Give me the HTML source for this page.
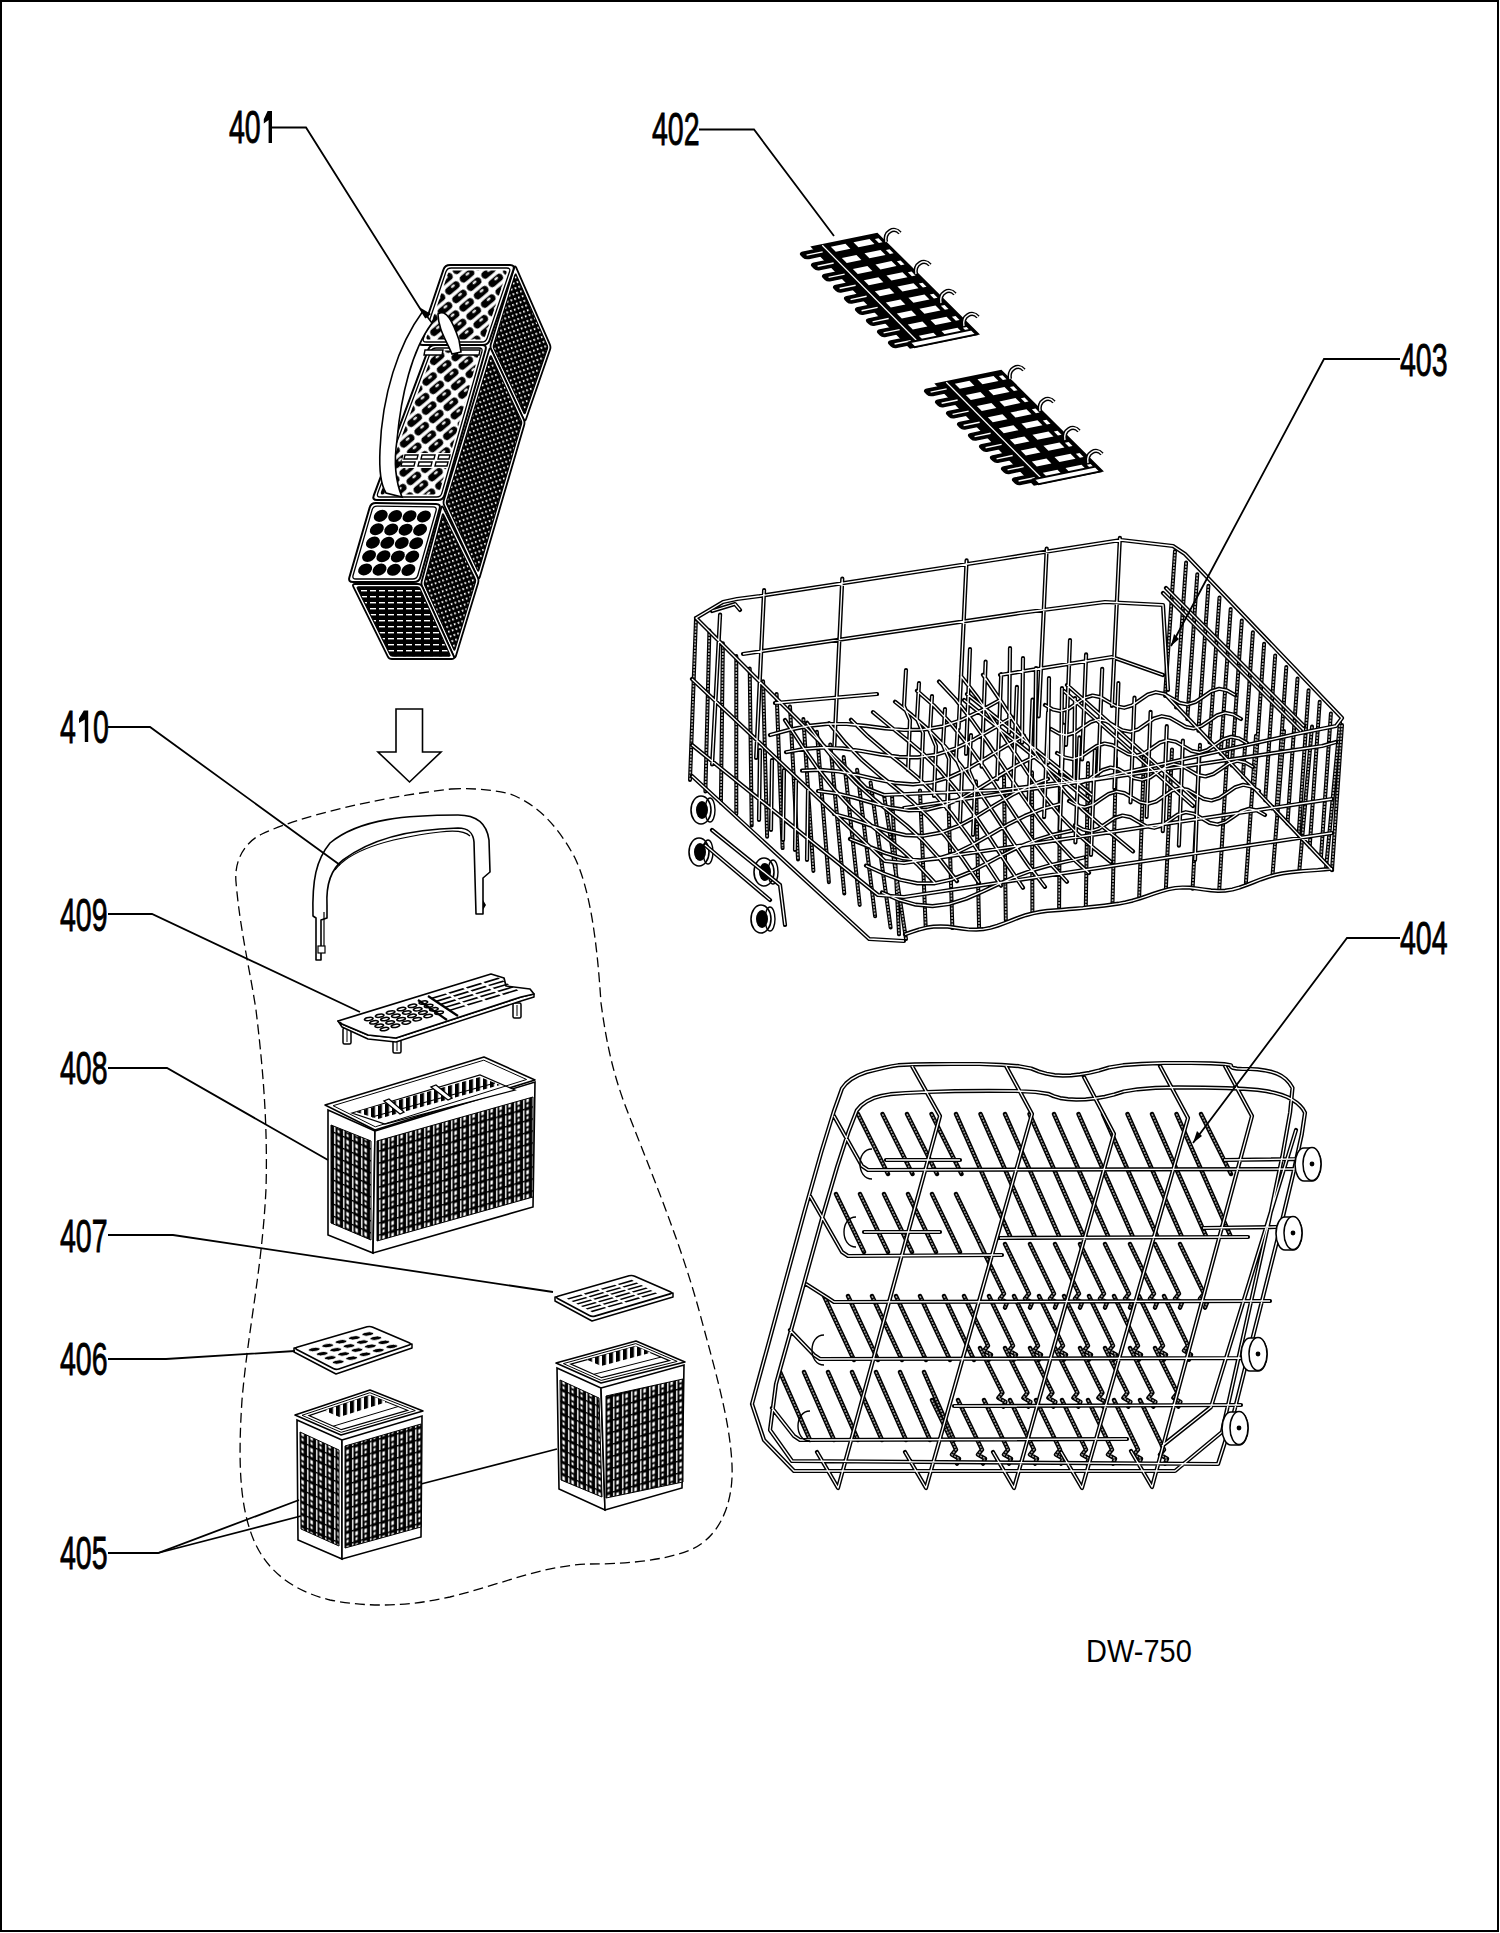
<!DOCTYPE html>
<html><head><meta charset="utf-8"><title>DW-750 racks</title><style>
html,body{margin:0;padding:0;background:#fff;}
body{width:1500px;height:1933px;position:relative;overflow:hidden;}
#frame{position:absolute;left:0;top:0;width:1499px;height:1932px;box-sizing:border-box;border:2px solid #000;}
svg{position:absolute;left:0;top:0;}
.lb{font-family:"Liberation Sans",sans-serif;font-size:46px;fill:#000;stroke:#000;stroke-width:0.9px;}
.ld{fill:none;stroke:#000;stroke-width:1.8;}
.dash{fill:none;stroke:#000;stroke-width:1.3;stroke-dasharray:10 5;}
.model{font-family:"Liberation Sans",sans-serif;font-size:31px;fill:#000;}
</style></head>
<body><div id="frame"></div>
<svg width="1500" height="1933" viewBox="0 0 1500 1933">
<defs>
<pattern id="pMesh" width="4" height="5" patternUnits="userSpaceOnUse" patternTransform="rotate(-20)">
 <rect width="4" height="5" fill="#000"/><rect x="1" y="1" width="1.5" height="2.1" fill="#fff"/>
</pattern>
<pattern id="pGrid" width="9" height="12" patternUnits="userSpaceOnUse" patternTransform="skewY(-16)">
 <rect width="9" height="12" fill="#000"/><rect x="1" y="0.5" width="1.4" height="10.5" fill="#fff"/><rect x="4.3" y="1.5" width="2.6" height="4" fill="#fff"/><rect x="4.6" y="7.5" width="2" height="2.8" fill="#fff"/>
</pattern>
<pattern id="pGridL" width="9" height="12" patternUnits="userSpaceOnUse" patternTransform="skewY(24)">
 <rect width="9" height="12" fill="#000"/><rect x="1" y="0.5" width="1.4" height="10.5" fill="#fff"/><rect x="4.3" y="1.5" width="2.6" height="4" fill="#fff"/><rect x="4.6" y="7.5" width="2" height="2.8" fill="#fff"/>
</pattern>
<pattern id="pSlats" width="7" height="20" patternUnits="userSpaceOnUse" patternTransform="skewY(-16)">
 <rect width="7" height="20" fill="#fff"/><rect x="0" y="0" width="4" height="20" fill="#000"/>
</pattern>
<pattern id="pHoles" width="19" height="11" patternUnits="userSpaceOnUse" patternTransform="rotate(-40)">
 <rect width="19" height="11" fill="#fff"/><rect x="1.2" y="1.8" width="16.6" height="7.4" rx="3.7" fill="#000"/><ellipse cx="11" cy="4.4" rx="2.4" ry="1.1" fill="#fff"/>
</pattern>
<pattern id="pRound" width="11" height="11" patternUnits="userSpaceOnUse" patternTransform="rotate(-30)">
 <rect width="11" height="11" fill="#fff"/><ellipse cx="5.5" cy="5.5" rx="5" ry="4.5" fill="#000"/>
</pattern>
<pattern id="pSlot" width="9" height="6" patternUnits="userSpaceOnUse">
 <rect width="9" height="6" fill="#000"/><rect x="1" y="2" width="6" height="1.4" fill="#fff"/>
</pattern>
<pattern id="pRack" width="6" height="4" patternUnits="userSpaceOnUse" patternTransform="rotate(-38)">
 <rect width="6" height="4" fill="#000"/><rect x="1" y="1" width="3.6" height="1.8" fill="#fff"/>
</pattern>
<pattern id="pTray" width="12" height="9" patternUnits="userSpaceOnUse" patternTransform="rotate(-17)">
 <rect width="12" height="9" fill="#fff"/><ellipse cx="6" cy="4.5" rx="4" ry="2.6" fill="none" stroke="#000" stroke-width="1.2"/>
</pattern>
<pattern id="pTrayS" width="11" height="7" patternUnits="userSpaceOnUse" patternTransform="rotate(-17)">
 <rect width="11" height="7" fill="#fff"/><rect x="0.5" y="2" width="9" height="2.4" fill="#000"/>
</pattern>
</defs>
<path d="M516.2,267.7 L549.8,344.3 Q551,347 550,349.8 L526,419.2 Q525,422 523.7,419.3 L491.3,349.7 Q490,347 490.9,344.1 L514.1,267.9 Q515,265 516.2,267.7Z" fill="#fff" stroke="#000" stroke-width="1.8"/>
<path d="M516.3,274.9 L547.2,345.3 Q548,347.1 547.3,349 L525.3,412.7 Q524.6,414.6 523.8,412.7 L493.8,348.6 Q493,346.8 493.6,344.9 L514.9,275 Q515.5,273 516.3,274.9Z" fill="url(#pMesh)" stroke="#000" stroke-width="1.2"/>
<path d="M491.3,349.7 L523.7,419.3 Q525,422 524.2,424.9 L479.8,577.1 Q479,580 477.7,577.3 L444.3,505.7 Q443,503 443.9,500.1 L489.1,349.9 Q490,347 491.3,349.7Z" fill="#fff" stroke="#000" stroke-width="1.8"/>
<path d="M491.4,356.6 L521.2,420.4 Q522,422.2 521.5,424.1 L478.9,570.2 Q478.4,572.1 477.5,570.3 L446.8,504.6 Q446,502.8 446.6,500.9 L490,356.7 Q490.6,354.8 491.4,356.6Z" fill="url(#pMesh)" stroke="#000" stroke-width="1.2"/>
<path d="M443.3,507.7 L477.7,577.3 Q479,580 478.1,582.9 L455.9,656.1 Q455,659 453.8,656.3 L422.2,586.7 Q421,584 421.8,581.1 L441.2,507.9 Q442,505 443.3,507.7Z" fill="#fff" stroke="#000" stroke-width="1.8"/>
<path d="M443.7,514.7 L475.1,578.5 Q476,580.2 475.4,582.2 L455.1,649.2 Q454.5,651.1 453.7,649.3 L424.8,585.6 Q424,583.8 424.5,581.8 L442.3,514.9 Q442.8,512.9 443.7,514.7Z" fill="url(#pMesh)" stroke="#000" stroke-width="1.2"/>
<path d="M355,584 L418,584 Q421,584 422.2,586.7 L453.8,656.3 Q455,659 452,659 L392,659 Q389,659 387.7,656.3 L353.3,586.7 Q352,584 355,584Z" fill="#fff" stroke="#000" stroke-width="1.8"/>
<path d="M358.5,586.8 L417.2,586.8 Q419.2,586.8 420,588.6 L449.8,654.4 Q450.7,656.2 448.7,656.2 L392.7,656.2 Q390.7,656.2 389.9,654.4 L357.4,588.6 Q356.5,586.8 358.5,586.8Z" fill="url(#pSlot)" stroke="#000" stroke-width="1.2"/>
<path d="M450,265 L510,265 Q515,265 513.4,269.7 L489.6,340.3 Q488,345 483,345 L423,345 Q418,345 419.6,340.3 L443.4,269.7 Q445,265 450,265Z" fill="#fff" stroke="#000" stroke-width="2"/>
<path d="M451.2,268 L506.8,268 Q510.8,268 509.5,271.8 L487.1,338.2 Q485.8,342 481.8,342 L426.2,342 Q422.2,342 423.5,338.2 L445.9,271.8 Q447.2,268 451.2,268Z" fill="none" stroke="#000" stroke-width="1.3"/>
<path d="M451.9,270.5 L504.3,270.5 Q507.3,270.5 506.4,273.3 L485,336.7 Q484.1,339.5 481.1,339.5 L428.7,339.5 Q425.7,339.5 426.6,336.7 L448,273.3 Q448.9,270.5 451.9,270.5Z" fill="url(#pHoles)" stroke="none"/>
<path d="M435,345 L482,345 Q487,345 485.6,349.8 L444.4,495.2 Q443,500 438,500 L377,500 Q372,500 373.8,495.3 L428.2,349.7 Q430,345 435,345Z" fill="#fff" stroke="#000" stroke-width="2"/>
<path d="M436.1,348 L479,348 Q483,348 481.9,351.8 L441.8,493.2 Q440.7,497 436.7,497 L380.3,497 Q376.3,497 377.7,493.3 L430.7,351.7 Q432.1,348 436.1,348Z" fill="none" stroke="#000" stroke-width="1.3"/>
<path d="M436.8,350.5 L476.7,350.5 Q479.7,350.5 478.9,353.4 L439.7,491.6 Q438.8,494.5 435.8,494.5 L382.9,494.5 Q379.9,494.5 381,491.7 L432.8,353.3 Q433.8,350.5 436.8,350.5Z" fill="url(#pHoles)" stroke="none"/>
<path d="M376,503.1 L436,503.9 Q441,504 439.6,508.8 L420.4,577.2 Q419,582 414,582 L353,582 Q348,582 349.4,577.2 L369.6,507.8 Q371,503 376,503.1Z" fill="#fff" stroke="#000" stroke-width="2"/>
<path d="M377.2,506.1 L433.1,506.9 Q437.1,506.9 436,510.8 L417.8,575.2 Q416.7,579 412.7,579 L356,579 Q352,579 353.1,575.2 L372.1,509.9 Q373.2,506 377.2,506.1Z" fill="none" stroke="#000" stroke-width="1.3"/>
<g transform="matrix(57.6218,0.8232,-19.4875,66.9353,375.4835,509.0647)"><ellipse cx="0.125" cy="0.1" rx="0.1175" ry="0.09" fill="#000"/><ellipse cx="0.125" cy="0.3" rx="0.1175" ry="0.09" fill="#000"/><ellipse cx="0.125" cy="0.5" rx="0.1175" ry="0.09" fill="#000"/><ellipse cx="0.125" cy="0.7" rx="0.1175" ry="0.09" fill="#000"/><ellipse cx="0.125" cy="0.9" rx="0.1175" ry="0.09" fill="#000"/><ellipse cx="0.375" cy="0.1" rx="0.1175" ry="0.09" fill="#000"/><ellipse cx="0.375" cy="0.3" rx="0.1175" ry="0.09" fill="#000"/><ellipse cx="0.375" cy="0.5" rx="0.1175" ry="0.09" fill="#000"/><ellipse cx="0.375" cy="0.7" rx="0.1175" ry="0.09" fill="#000"/><ellipse cx="0.375" cy="0.9" rx="0.1175" ry="0.09" fill="#000"/><ellipse cx="0.625" cy="0.1" rx="0.1175" ry="0.09" fill="#000"/><ellipse cx="0.625" cy="0.3" rx="0.1175" ry="0.09" fill="#000"/><ellipse cx="0.625" cy="0.5" rx="0.1175" ry="0.09" fill="#000"/><ellipse cx="0.625" cy="0.7" rx="0.1175" ry="0.09" fill="#000"/><ellipse cx="0.625" cy="0.9" rx="0.1175" ry="0.09" fill="#000"/><ellipse cx="0.875" cy="0.1" rx="0.1175" ry="0.09" fill="#000"/><ellipse cx="0.875" cy="0.3" rx="0.1175" ry="0.09" fill="#000"/><ellipse cx="0.875" cy="0.5" rx="0.1175" ry="0.09" fill="#000"/><ellipse cx="0.875" cy="0.7" rx="0.1175" ry="0.09" fill="#000"/><ellipse cx="0.875" cy="0.9" rx="0.1175" ry="0.09" fill="#000"/></g>
<path d="M404,453 L452,453 L448,468 L400,468Z" fill="#fff" stroke="none"/>
<path d="M405,455 h13 l-1,4 h-13z M422,455 h13 l-1,4 h-13z M439,455 h11 l-1,4 h-11z M402,462 h13 l-1,4 h-13z M419,462 h13 l-1,4 h-13z M436,462 h12 l-1,4 h-12z" fill="#fff" stroke="#000" stroke-width="1.4"/>
<path d="M425,350 h18 l-1,5 h-18z M458,350 h22 l-1,5 h-22z" fill="#fff" stroke="#000" stroke-width="1.4"/>
<path d="M423,311 C398,345 382,395 380,450 C379,470 381,485 386,493 L402,497 C395,480 394,460 397,440 C401,395 412,350 432,323 Z" fill="#fff" stroke="#000" stroke-width="1.6"/>
<path d="M438,314 C446,308 453,322 459,340 L461,352 L452,354 C446,340 438,328 438,314Z" fill="#fff" stroke="#000" stroke-width="1.6"/>
<path d="M426,318 L419,307 L431,314Z" fill="#000"/>
<g transform="matrix(73,-15,99,100,804,249)"><path d="M0.12,0 L1,0 L1.02,1 L0.1,1 Z" fill="#000" stroke="#000" stroke-width="2.5" vector-effect="non-scaling-stroke"/><rect x="0.33" y="0.0278" width="0.2" height="0.05" fill="#fff"/><rect x="0.64" y="0.0278" width="0.22" height="0.05" fill="#fff"/><rect x="0.92" y="0.0378" width="0.05" height="0.04" fill="#fff"/><rect x="0.33" y="0.1389" width="0.2" height="0.05" fill="#fff"/><rect x="0.64" y="0.1389" width="0.22" height="0.05" fill="#fff"/><rect x="0.92" y="0.1489" width="0.05" height="0.04" fill="#fff"/><rect x="0.33" y="0.25" width="0.2" height="0.05" fill="#fff"/><rect x="0.64" y="0.25" width="0.22" height="0.05" fill="#fff"/><rect x="0.92" y="0.26" width="0.05" height="0.04" fill="#fff"/><rect x="0.33" y="0.3611" width="0.2" height="0.05" fill="#fff"/><rect x="0.64" y="0.3611" width="0.22" height="0.05" fill="#fff"/><rect x="0.92" y="0.3711" width="0.05" height="0.04" fill="#fff"/><rect x="0.33" y="0.4722" width="0.2" height="0.05" fill="#fff"/><rect x="0.64" y="0.4722" width="0.22" height="0.05" fill="#fff"/><rect x="0.92" y="0.4822" width="0.05" height="0.04" fill="#fff"/><rect x="0.33" y="0.5833" width="0.2" height="0.05" fill="#fff"/><rect x="0.64" y="0.5833" width="0.22" height="0.05" fill="#fff"/><rect x="0.92" y="0.5933" width="0.05" height="0.04" fill="#fff"/><rect x="0.33" y="0.6944" width="0.2" height="0.05" fill="#fff"/><rect x="0.64" y="0.6944" width="0.22" height="0.05" fill="#fff"/><rect x="0.92" y="0.7044" width="0.05" height="0.04" fill="#fff"/><rect x="0.33" y="0.8056" width="0.2" height="0.05" fill="#fff"/><rect x="0.64" y="0.8056" width="0.22" height="0.05" fill="#fff"/><rect x="0.92" y="0.8156" width="0.05" height="0.04" fill="#fff"/><rect x="0.33" y="0.9167" width="0.2" height="0.05" fill="#fff"/><rect x="0.64" y="0.9167" width="0.22" height="0.05" fill="#fff"/><rect x="0.92" y="0.9267" width="0.05" height="0.04" fill="#fff"/><path d="M0.25,0 L0.25,1" stroke="#fff" stroke-width="1.2" vector-effect="non-scaling-stroke"/><rect x="-0.1" y="0.0244" width="0.32" height="0.0622" rx="0.05" ry="0.02" fill="#000" stroke="#000" stroke-width="1.5" vector-effect="non-scaling-stroke"/><path d="M-0.04,0.0556 L0.18,0.0556" stroke="#fff" stroke-width="1.4" vector-effect="non-scaling-stroke"/><rect x="-0.1" y="0.1356" width="0.32" height="0.0622" rx="0.05" ry="0.02" fill="#000" stroke="#000" stroke-width="1.5" vector-effect="non-scaling-stroke"/><path d="M-0.04,0.1667 L0.18,0.1667" stroke="#fff" stroke-width="1.4" vector-effect="non-scaling-stroke"/><rect x="-0.1" y="0.2467" width="0.32" height="0.0622" rx="0.05" ry="0.02" fill="#000" stroke="#000" stroke-width="1.5" vector-effect="non-scaling-stroke"/><path d="M-0.04,0.2778 L0.18,0.2778" stroke="#fff" stroke-width="1.4" vector-effect="non-scaling-stroke"/><rect x="-0.1" y="0.3578" width="0.32" height="0.0622" rx="0.05" ry="0.02" fill="#000" stroke="#000" stroke-width="1.5" vector-effect="non-scaling-stroke"/><path d="M-0.04,0.3889 L0.18,0.3889" stroke="#fff" stroke-width="1.4" vector-effect="non-scaling-stroke"/><rect x="-0.1" y="0.4689" width="0.32" height="0.0622" rx="0.05" ry="0.02" fill="#000" stroke="#000" stroke-width="1.5" vector-effect="non-scaling-stroke"/><path d="M-0.04,0.5 L0.18,0.5" stroke="#fff" stroke-width="1.4" vector-effect="non-scaling-stroke"/><rect x="-0.1" y="0.58" width="0.32" height="0.0622" rx="0.05" ry="0.02" fill="#000" stroke="#000" stroke-width="1.5" vector-effect="non-scaling-stroke"/><path d="M-0.04,0.6111 L0.18,0.6111" stroke="#fff" stroke-width="1.4" vector-effect="non-scaling-stroke"/><rect x="-0.1" y="0.6911" width="0.32" height="0.0622" rx="0.05" ry="0.02" fill="#000" stroke="#000" stroke-width="1.5" vector-effect="non-scaling-stroke"/><path d="M-0.04,0.7222 L0.18,0.7222" stroke="#fff" stroke-width="1.4" vector-effect="non-scaling-stroke"/><rect x="-0.1" y="0.8022" width="0.32" height="0.0622" rx="0.05" ry="0.02" fill="#000" stroke="#000" stroke-width="1.5" vector-effect="non-scaling-stroke"/><path d="M-0.04,0.8333 L0.18,0.8333" stroke="#fff" stroke-width="1.4" vector-effect="non-scaling-stroke"/><rect x="-0.1" y="0.9133" width="0.32" height="0.0622" rx="0.05" ry="0.02" fill="#000" stroke="#000" stroke-width="1.5" vector-effect="non-scaling-stroke"/><path d="M-0.04,0.9444 L0.18,0.9444" stroke="#fff" stroke-width="1.4" vector-effect="non-scaling-stroke"/><rect x="0.15" y="0.955" width="0.85" height="0.05" fill="#fff" stroke="#000" stroke-width="2" vector-effect="non-scaling-stroke"/></g>
<path d="M886,242 C884,232 894,226 900,233" fill="none" stroke="#000" stroke-width="4.2"/>
<path d="M886,242 C884,232 894,226 900,233" fill="none" stroke="#fff" stroke-width="1.4"/>
<path d="M916,274 C914,264 924,258 930,265" fill="none" stroke="#000" stroke-width="4.2"/>
<path d="M916,274 C914,264 924,258 930,265" fill="none" stroke="#fff" stroke-width="1.4"/>
<path d="M941,303 C939,293 949,287 955,294" fill="none" stroke="#000" stroke-width="4.2"/>
<path d="M941,303 C939,293 949,287 955,294" fill="none" stroke="#fff" stroke-width="1.4"/>
<path d="M964,326 C962,316 972,310 978,317" fill="none" stroke="#000" stroke-width="4.2"/>
<path d="M964,326 C962,316 972,310 978,317" fill="none" stroke="#fff" stroke-width="1.4"/>
<g transform="matrix(73,-15,99,100,928,386)"><path d="M0.12,0 L1,0 L1.02,1 L0.1,1 Z" fill="#000" stroke="#000" stroke-width="2.5" vector-effect="non-scaling-stroke"/><rect x="0.33" y="0.0278" width="0.2" height="0.05" fill="#fff"/><rect x="0.64" y="0.0278" width="0.22" height="0.05" fill="#fff"/><rect x="0.92" y="0.0378" width="0.05" height="0.04" fill="#fff"/><rect x="0.33" y="0.1389" width="0.2" height="0.05" fill="#fff"/><rect x="0.64" y="0.1389" width="0.22" height="0.05" fill="#fff"/><rect x="0.92" y="0.1489" width="0.05" height="0.04" fill="#fff"/><rect x="0.33" y="0.25" width="0.2" height="0.05" fill="#fff"/><rect x="0.64" y="0.25" width="0.22" height="0.05" fill="#fff"/><rect x="0.92" y="0.26" width="0.05" height="0.04" fill="#fff"/><rect x="0.33" y="0.3611" width="0.2" height="0.05" fill="#fff"/><rect x="0.64" y="0.3611" width="0.22" height="0.05" fill="#fff"/><rect x="0.92" y="0.3711" width="0.05" height="0.04" fill="#fff"/><rect x="0.33" y="0.4722" width="0.2" height="0.05" fill="#fff"/><rect x="0.64" y="0.4722" width="0.22" height="0.05" fill="#fff"/><rect x="0.92" y="0.4822" width="0.05" height="0.04" fill="#fff"/><rect x="0.33" y="0.5833" width="0.2" height="0.05" fill="#fff"/><rect x="0.64" y="0.5833" width="0.22" height="0.05" fill="#fff"/><rect x="0.92" y="0.5933" width="0.05" height="0.04" fill="#fff"/><rect x="0.33" y="0.6944" width="0.2" height="0.05" fill="#fff"/><rect x="0.64" y="0.6944" width="0.22" height="0.05" fill="#fff"/><rect x="0.92" y="0.7044" width="0.05" height="0.04" fill="#fff"/><rect x="0.33" y="0.8056" width="0.2" height="0.05" fill="#fff"/><rect x="0.64" y="0.8056" width="0.22" height="0.05" fill="#fff"/><rect x="0.92" y="0.8156" width="0.05" height="0.04" fill="#fff"/><rect x="0.33" y="0.9167" width="0.2" height="0.05" fill="#fff"/><rect x="0.64" y="0.9167" width="0.22" height="0.05" fill="#fff"/><rect x="0.92" y="0.9267" width="0.05" height="0.04" fill="#fff"/><path d="M0.25,0 L0.25,1" stroke="#fff" stroke-width="1.2" vector-effect="non-scaling-stroke"/><rect x="-0.1" y="0.0244" width="0.32" height="0.0622" rx="0.05" ry="0.02" fill="#000" stroke="#000" stroke-width="1.5" vector-effect="non-scaling-stroke"/><path d="M-0.04,0.0556 L0.18,0.0556" stroke="#fff" stroke-width="1.4" vector-effect="non-scaling-stroke"/><rect x="-0.1" y="0.1356" width="0.32" height="0.0622" rx="0.05" ry="0.02" fill="#000" stroke="#000" stroke-width="1.5" vector-effect="non-scaling-stroke"/><path d="M-0.04,0.1667 L0.18,0.1667" stroke="#fff" stroke-width="1.4" vector-effect="non-scaling-stroke"/><rect x="-0.1" y="0.2467" width="0.32" height="0.0622" rx="0.05" ry="0.02" fill="#000" stroke="#000" stroke-width="1.5" vector-effect="non-scaling-stroke"/><path d="M-0.04,0.2778 L0.18,0.2778" stroke="#fff" stroke-width="1.4" vector-effect="non-scaling-stroke"/><rect x="-0.1" y="0.3578" width="0.32" height="0.0622" rx="0.05" ry="0.02" fill="#000" stroke="#000" stroke-width="1.5" vector-effect="non-scaling-stroke"/><path d="M-0.04,0.3889 L0.18,0.3889" stroke="#fff" stroke-width="1.4" vector-effect="non-scaling-stroke"/><rect x="-0.1" y="0.4689" width="0.32" height="0.0622" rx="0.05" ry="0.02" fill="#000" stroke="#000" stroke-width="1.5" vector-effect="non-scaling-stroke"/><path d="M-0.04,0.5 L0.18,0.5" stroke="#fff" stroke-width="1.4" vector-effect="non-scaling-stroke"/><rect x="-0.1" y="0.58" width="0.32" height="0.0622" rx="0.05" ry="0.02" fill="#000" stroke="#000" stroke-width="1.5" vector-effect="non-scaling-stroke"/><path d="M-0.04,0.6111 L0.18,0.6111" stroke="#fff" stroke-width="1.4" vector-effect="non-scaling-stroke"/><rect x="-0.1" y="0.6911" width="0.32" height="0.0622" rx="0.05" ry="0.02" fill="#000" stroke="#000" stroke-width="1.5" vector-effect="non-scaling-stroke"/><path d="M-0.04,0.7222 L0.18,0.7222" stroke="#fff" stroke-width="1.4" vector-effect="non-scaling-stroke"/><rect x="-0.1" y="0.8022" width="0.32" height="0.0622" rx="0.05" ry="0.02" fill="#000" stroke="#000" stroke-width="1.5" vector-effect="non-scaling-stroke"/><path d="M-0.04,0.8333 L0.18,0.8333" stroke="#fff" stroke-width="1.4" vector-effect="non-scaling-stroke"/><rect x="-0.1" y="0.9133" width="0.32" height="0.0622" rx="0.05" ry="0.02" fill="#000" stroke="#000" stroke-width="1.5" vector-effect="non-scaling-stroke"/><path d="M-0.04,0.9444 L0.18,0.9444" stroke="#fff" stroke-width="1.4" vector-effect="non-scaling-stroke"/><rect x="0.15" y="0.955" width="0.85" height="0.05" fill="#fff" stroke="#000" stroke-width="2" vector-effect="non-scaling-stroke"/></g>
<path d="M1010,379 C1008,369 1018,363 1024,370" fill="none" stroke="#000" stroke-width="4.2"/>
<path d="M1010,379 C1008,369 1018,363 1024,370" fill="none" stroke="#fff" stroke-width="1.4"/>
<path d="M1040,411 C1038,401 1048,395 1054,402" fill="none" stroke="#000" stroke-width="4.2"/>
<path d="M1040,411 C1038,401 1048,395 1054,402" fill="none" stroke="#fff" stroke-width="1.4"/>
<path d="M1065,440 C1063,430 1073,424 1079,431" fill="none" stroke="#000" stroke-width="4.2"/>
<path d="M1065,440 C1063,430 1073,424 1079,431" fill="none" stroke="#fff" stroke-width="1.4"/>
<path d="M1088,463 C1086,453 1096,447 1102,454" fill="none" stroke="#000" stroke-width="4.2"/>
<path d="M1088,463 C1086,453 1096,447 1102,454" fill="none" stroke="#fff" stroke-width="1.4"/>
<path d="M696,618 L690,780 M709.4,630.6 L705.4,791.4 M722.9,643.3 L720.9,802.7 M736.3,655.9 L736.3,814.1 M749.7,668.6 L751.7,825.4 M763.1,681.2 L767.1,836.8 M776.6,693.9 L782.6,848.1 M790,706.5 L798,859.5 M803.4,719.1 L813.4,870.9 M816.9,731.8 L828.9,882.2 M830.3,744.4 L844.3,893.6 M843.7,757.1 L859.7,904.9 M857.1,769.7 L875.1,916.3 M870.6,782.4 L890.6,927.6 M884,795 L906,939 M892,795 L899,934.3 M920,790.4 L925.7,926.9 M948,785.9 L952.4,928.1 M976,781.3 L979.1,928.9 M1004,776.8 L1005.8,920.3 M1032,772.2 L1032.4,912.2 M1060,767.6 L1059.1,909.5 M1088,763.1 L1085.8,907 M1116,758.5 L1112.5,903.7 M1144,753.9 L1139.2,896.7 M1172,749.4 L1165.9,888.6 M1200,744.8 L1192.6,888.7 M1228,740.2 L1219.2,890.6 M1256,735.7 L1245.9,882.9 M1284,731.1 L1272.6,874.1 M1312,726.6 L1299.3,870.9 M1340,722 L1326,868.6 M1175,551 L1165,696 M1186.1,562.6 L1176.1,707.6 M1197.3,574.2 L1187.3,719.2 M1208.4,585.8 L1198.4,730.8 M1219.5,597.4 L1209.5,742.4 M1230.7,609 L1220.7,754 M1241.8,620.6 L1231.8,765.6 M1252.9,632.2 L1242.9,777.2 M1264.1,643.8 L1254.1,788.8 M1275.2,655.4 L1265.2,800.4 M1286.3,667 L1276.3,812 M1297.5,678.6 L1287.5,823.6 M1308.6,690.2 L1298.6,835.2 M1319.7,701.8 L1309.7,846.8 M1330.9,713.4 L1320.9,858.4 M1342,725 L1332,870" fill="none" stroke="#000" stroke-width="4.0" stroke-linecap="round" stroke-linejoin="round"/>
<path d="M696,618 L690,780 M709.4,630.6 L705.4,791.4 M722.9,643.3 L720.9,802.7 M736.3,655.9 L736.3,814.1 M749.7,668.6 L751.7,825.4 M763.1,681.2 L767.1,836.8 M776.6,693.9 L782.6,848.1 M790,706.5 L798,859.5 M803.4,719.1 L813.4,870.9 M816.9,731.8 L828.9,882.2 M830.3,744.4 L844.3,893.6 M843.7,757.1 L859.7,904.9 M857.1,769.7 L875.1,916.3 M870.6,782.4 L890.6,927.6 M884,795 L906,939 M892,795 L899,934.3 M920,790.4 L925.7,926.9 M948,785.9 L952.4,928.1 M976,781.3 L979.1,928.9 M1004,776.8 L1005.8,920.3 M1032,772.2 L1032.4,912.2 M1060,767.6 L1059.1,909.5 M1088,763.1 L1085.8,907 M1116,758.5 L1112.5,903.7 M1144,753.9 L1139.2,896.7 M1172,749.4 L1165.9,888.6 M1200,744.8 L1192.6,888.7 M1228,740.2 L1219.2,890.6 M1256,735.7 L1245.9,882.9 M1284,731.1 L1272.6,874.1 M1312,726.6 L1299.3,870.9 M1340,722 L1326,868.6 M1175,551 L1165,696 M1186.1,562.6 L1176.1,707.6 M1197.3,574.2 L1187.3,719.2 M1208.4,585.8 L1198.4,730.8 M1219.5,597.4 L1209.5,742.4 M1230.7,609 L1220.7,754 M1241.8,620.6 L1231.8,765.6 M1252.9,632.2 L1242.9,777.2 M1264.1,643.8 L1254.1,788.8 M1275.2,655.4 L1265.2,800.4 M1286.3,667 L1276.3,812 M1297.5,678.6 L1287.5,823.6 M1308.6,690.2 L1298.6,835.2 M1319.7,701.8 L1309.7,846.8 M1330.9,713.4 L1320.9,858.4 M1342,725 L1332,870" fill="none" stroke="#b4b4b4" stroke-width="1.6" stroke-linecap="butt" stroke-linejoin="round" stroke-dasharray="2 1.2"/>
<path d="M760,596 L737,599 L723,602 L696,618 L866,788 L884,795 L1000,790 L1100,778 L1296,734 L1336,726 L1342,718 L1185,554 L1173,546 L1121,540 L1000,559 L760,596 M712,611 L735,604 L740,610 M1163,593 L1301,731 M1166,588 L1304,726 M743,654 L1020,613 L1105,602 L1163,605 L1168,690 M775,703 L877,694 M1000,675 L1112,657 L1163,675 M692,679 L884.8,861 L904,863 L1332,799 M692,745 L878,895 L904,897 L1332,833 M692,776 L869.2,939 L904,941 M904,808 L1322,746 L1336,742 M905,934.3 L912.1,931.8 L919.2,929.5 L926.4,927.7 L933.5,926.7 L940.6,926.4 L947.7,926.7 L954.8,927.6 L961.9,928.6 L969,929.5 L976.2,929.7 L983.3,929.2 L990.4,927.8 L997.5,925.7 L1004.6,923.1 L1011.8,920.3 L1018.9,917.5 L1026,915.1 L1033.1,913.3 L1040.2,911.9 L1047.3,910.9 L1054.5,910.3 L1061.6,909.8 L1068.7,909.2 L1075.8,908.6 L1082.9,908 L1090,907.2 L1097.2,906.4 L1104.3,905.6 L1111.4,904.7 L1118.5,903.7 L1125.6,902.3 L1132.7,900.6 L1139.8,898.5 L1147,896.1 L1154.1,893.6 L1161.2,891.3 L1168.3,889.3 L1175.4,888 L1182.5,887.5 L1189.7,887.7 L1196.8,888.5 L1203.9,889.5 L1211,890.4 L1218.1,890.9 L1225.2,890.6 L1232.4,889.5 L1239.5,887.5 L1246.6,885 L1253.7,882.2 L1260.8,879.4 L1268,876.9 L1275.1,874.9 L1282.2,873.4 L1289.3,872.3 L1296.4,871.6 L1303.5,871 L1310.7,870.5 L1317.8,870 L1324.9,869.3 L1332,868.6 M1165,694 L1332,870 M720.1,614.5 L712.1,764.5 M764.1,590 L756.1,758 M842.3,578.5 L834.3,746.5 M966.6,560.3 L958.6,728.3 M1046.7,548.5 L1038.7,716.5 M1119.9,537.8 L1111.9,705.8 M967,694 L1092,795 M964,700 L1089,801 M970,649 L966,754 M985.6,661.6 L981.6,766.6 M1001.2,674.2 L997.2,779.2 M1016.9,686.9 L1012.9,791.9 M1032.5,699.5 L1028.5,804.5 M1048.1,712.1 L1044.1,817.1 M1063.8,724.8 L1059.8,829.8 M1079.4,737.4 L1075.4,842.4 M1095,750 L1091,855 M1067,685 L1196,800 M1064,691 L1193,806 M1070,640 L1066,745 M1086.1,654.4 L1082.1,759.4 M1102.2,668.8 L1098.2,773.8 M1118.4,683.1 L1114.4,788.1 M1134.5,697.5 L1130.5,802.5 M1150.6,711.9 L1146.6,816.9 M1166.8,726.2 L1162.8,831.2 M1182.9,740.6 L1178.9,845.6 M1199,755 L1195,860 M906,670 L904,706 L910,720 L908,770 M919,683 L917,719 L923,733 L921,783 M932,696 L930,732 L936,746 L934,796 M945,709 L943,745 L949,759 L947,809 M958,722 L956,758 L962,772 L960,822 M971,735 L969,771 L975,785 L973,835 M1010,648 L1009,733 M1023,658 L1022,743 M1036,668 L1035,753 M1049,678 L1048,763 M1062,688 L1061,773 M1075,698 L1074,783 M760,750 L759,820 M772,760 L771,830 M784,770 L783,840 M796,780 L795,850 M808,790 L807,860 M770,735 L789.2,729.9 L808.3,725.9 L827.5,723.9 L846.7,724 L865.8,725.8 L885,728.3 L904.2,730 L923.3,729.7 L942.5,726.4 L961.7,719.9 L980.8,710.7 L1000,700 M786,752.2 L804.8,748.8 L823.7,747.5 L842.5,748.4 L861.3,751 L880.2,754.4 L899,756.9 L917.8,757.3 L936.7,754.6 L955.5,748.4 L974.3,739.3 L993.2,728.4 L1012,717.2 M802,770.6 L820.5,769.8 L839,771.5 L857.5,775 L876,779.3 L894.5,782.9 L913,784.3 L931.5,782.5 L950,777 L968.5,768.3 L987,757.5 L1005.5,746.1 L1024,735.6 M818,791 L836.2,793.3 L854.3,797.7 L872.5,803 L890.7,807.7 L908.8,810.3 L927,809.7 L945.2,805.2 L963.3,797.3 L981.5,786.9 L999.7,775.6 L1017.8,764.8 L1036,756 M834,813.9 L851.8,818.9 L869.7,825.2 L887.5,831.1 L905.3,835.1 L923.2,835.8 L941,832.6 L958.8,825.8 L976.7,816.2 L994.5,805.3 L1012.3,794.7 L1030.2,785.6 L1048,778.9 M850,839 L867.5,846 L885,853 L902.5,858.3 L920,860.4 L937.5,858.7 L955,853.3 L972.5,844.9 L990,834.9 L1007.5,824.7 L1025,815.8 L1042.5,808.9 L1060,804 M866,865.6 L883.2,873.4 L900.3,879.8 L917.5,883.4 L934.7,883.3 L951.8,879.5 L969,872.5 L986.2,863.7 L1003.3,854.5 L1020.5,846.1 L1037.7,839.4 L1054.8,834.3 L1072,830.6 M882,892.5 L898.8,899.9 L915.7,904.7 L932.5,906.2 L949.3,904 L966.2,898.7 L983,891.4 L999.8,883.5 L1016.7,876.1 L1033.5,869.9 L1050.3,865.2 L1067.2,861.3 L1084,857.5 M785,720 L801.7,745.4 L818.3,769.3 L835,790.3 L851.7,808.2 L868.3,823.2 L885,836.7 L901.7,850.1 L918.3,865.2 L935,883 M807,722.8 L823.7,746.3 L840.3,766.9 L857,784.2 L873.7,799 L890.3,812.3 L907,825.9 L923.7,841.3 L940.3,859.6 L957,881.1 M829,723.2 L845.7,743.3 L862.3,760.2 L879,774.7 L895.7,788 L912.3,801.7 L929,817.5 L945.7,836.3 L962.3,858.2 L979,882.7 M851,719.7 L867.7,736.2 L884.3,750.4 L901,763.6 L917.7,777.6 L934.3,793.7 L951,813 L967.7,835.4 L984.3,860.1 L1001,885.7 M873,712.1 L889.7,726 L906.3,739.3 L923,753.5 L939.7,770.1 L956.3,789.8 L973,812.6 L989.7,837.5 L1006.3,863.2 L1023,887.8 M895,701.7 L911.7,715 L928.3,729.4 L945,746.5 L961.7,766.6 L978.3,789.8 L995,815 L1011.7,840.6 L1028.3,865 L1045,886.9 M917,690.7 L933.7,705.5 L950.3,722.9 L967,743.6 L983.7,767.1 L1000.3,792.4 L1017,818 L1033.7,842.1 L1050.3,863.5 L1067,881.8 M939,681.5 L955.7,699.4 L972.3,720.6 L989,744.5 L1005.7,769.9 L1022.3,795.3 L1039,819.1 L1055.7,840.1 L1072.3,857.9 L1089,872.9 M961,676 L977.7,697.6 L994.3,721.8 L1011,747.4 L1027.7,772.7 L1044.3,796.1 L1061,816.6 L1077.7,833.9 L1094.3,848.6 L1111,862 M983,674.7 L999.7,699.2 L1016.3,724.8 L1033,749.9 L1049.7,773 L1066.3,793.1 L1083,809.9 L1099.7,824.3 L1116.3,837.6 L1133,851.4 M1045,705 L1052.9,709.5 L1060.8,711.2 L1068.8,708.7 L1076.7,703.3 L1084.6,698 L1092.5,695.5 L1100.4,697.1 L1108.3,701.7 L1116.2,706.2 L1124.2,707.8 L1132.1,705.4 L1140,700 L1147.9,694.6 L1155.8,692.2 L1163.8,693.8 L1171.7,698.3 L1179.6,702.9 L1187.5,704.5 L1195.4,702 L1203.3,696.7 L1211.2,691.3 L1219.2,688.8 L1227.1,690.5 L1235,695 M1051,729 L1058.9,733.5 L1066.8,735.2 L1074.8,732.7 L1082.7,727.3 L1090.6,722 L1098.5,719.5 L1106.4,721.1 L1114.3,725.7 L1122.2,730.2 L1130.2,731.8 L1138.1,729.4 L1146,724 L1153.9,718.6 L1161.8,716.2 L1169.8,717.8 L1177.7,722.3 L1185.6,726.9 L1193.5,728.5 L1201.4,726 L1209.3,720.7 L1217.2,715.3 L1225.2,712.8 L1233.1,714.5 L1241,719 M1057,753 L1064.9,757.5 L1072.8,759.2 L1080.8,756.7 L1088.7,751.3 L1096.6,746 L1104.5,743.5 L1112.4,745.1 L1120.3,749.7 L1128.2,754.2 L1136.2,755.8 L1144.1,753.4 L1152,748 L1159.9,742.6 L1167.8,740.2 L1175.8,741.8 L1183.7,746.3 L1191.6,750.9 L1199.5,752.5 L1207.4,750 L1215.3,744.7 L1223.2,739.3 L1231.2,736.8 L1239.1,738.5 L1247,743 M1063,777 L1070.9,781.5 L1078.8,783.2 L1086.8,780.7 L1094.7,775.3 L1102.6,770 L1110.5,767.5 L1118.4,769.1 L1126.3,773.7 L1134.2,778.2 L1142.2,779.8 L1150.1,777.4 L1158,772 L1165.9,766.6 L1173.8,764.2 L1181.8,765.8 L1189.7,770.3 L1197.6,774.9 L1205.5,776.5 L1213.4,774 L1221.3,768.7 L1229.2,763.3 L1237.2,760.8 L1245.1,762.5 L1253,767 M1069,801 L1076.9,805.5 L1084.8,807.2 L1092.8,804.7 L1100.7,799.3 L1108.6,794 L1116.5,791.5 L1124.4,793.1 L1132.3,797.7 L1140.2,802.2 L1148.2,803.8 L1156.1,801.4 L1164,796 L1171.9,790.6 L1179.8,788.2 L1187.8,789.8 L1195.7,794.3 L1203.6,798.9 L1211.5,800.5 L1219.4,798 L1227.3,792.7 L1235.2,787.3 L1243.2,784.8 L1251.1,786.5 L1259,791 M1075,825 L1082.9,829.5 L1090.8,831.2 L1098.8,828.7 L1106.7,823.3 L1114.6,818 L1122.5,815.5 L1130.4,817.1 L1138.3,821.7 L1146.2,826.2 L1154.2,827.8 L1162.1,825.4 L1170,820 L1177.9,814.6 L1185.8,812.2 L1193.8,813.8 L1201.7,818.3 L1209.6,822.9 L1217.5,824.5 L1225.4,822 L1233.3,816.7 L1241.2,811.3 L1249.2,808.8 L1257.1,810.5 L1265,815" fill="none" stroke="#000" stroke-width="4.2" stroke-linecap="round" stroke-linejoin="round"/>
<path d="M760,596 L737,599 L723,602 L696,618 L866,788 L884,795 L1000,790 L1100,778 L1296,734 L1336,726 L1342,718 L1185,554 L1173,546 L1121,540 L1000,559 L760,596 M712,611 L735,604 L740,610 M1163,593 L1301,731 M1166,588 L1304,726 M743,654 L1020,613 L1105,602 L1163,605 L1168,690 M775,703 L877,694 M1000,675 L1112,657 L1163,675 M692,679 L884.8,861 L904,863 L1332,799 M692,745 L878,895 L904,897 L1332,833 M692,776 L869.2,939 L904,941 M904,808 L1322,746 L1336,742 M905,934.3 L912.1,931.8 L919.2,929.5 L926.4,927.7 L933.5,926.7 L940.6,926.4 L947.7,926.7 L954.8,927.6 L961.9,928.6 L969,929.5 L976.2,929.7 L983.3,929.2 L990.4,927.8 L997.5,925.7 L1004.6,923.1 L1011.8,920.3 L1018.9,917.5 L1026,915.1 L1033.1,913.3 L1040.2,911.9 L1047.3,910.9 L1054.5,910.3 L1061.6,909.8 L1068.7,909.2 L1075.8,908.6 L1082.9,908 L1090,907.2 L1097.2,906.4 L1104.3,905.6 L1111.4,904.7 L1118.5,903.7 L1125.6,902.3 L1132.7,900.6 L1139.8,898.5 L1147,896.1 L1154.1,893.6 L1161.2,891.3 L1168.3,889.3 L1175.4,888 L1182.5,887.5 L1189.7,887.7 L1196.8,888.5 L1203.9,889.5 L1211,890.4 L1218.1,890.9 L1225.2,890.6 L1232.4,889.5 L1239.5,887.5 L1246.6,885 L1253.7,882.2 L1260.8,879.4 L1268,876.9 L1275.1,874.9 L1282.2,873.4 L1289.3,872.3 L1296.4,871.6 L1303.5,871 L1310.7,870.5 L1317.8,870 L1324.9,869.3 L1332,868.6 M1165,694 L1332,870 M720.1,614.5 L712.1,764.5 M764.1,590 L756.1,758 M842.3,578.5 L834.3,746.5 M966.6,560.3 L958.6,728.3 M1046.7,548.5 L1038.7,716.5 M1119.9,537.8 L1111.9,705.8 M967,694 L1092,795 M964,700 L1089,801 M970,649 L966,754 M985.6,661.6 L981.6,766.6 M1001.2,674.2 L997.2,779.2 M1016.9,686.9 L1012.9,791.9 M1032.5,699.5 L1028.5,804.5 M1048.1,712.1 L1044.1,817.1 M1063.8,724.8 L1059.8,829.8 M1079.4,737.4 L1075.4,842.4 M1095,750 L1091,855 M1067,685 L1196,800 M1064,691 L1193,806 M1070,640 L1066,745 M1086.1,654.4 L1082.1,759.4 M1102.2,668.8 L1098.2,773.8 M1118.4,683.1 L1114.4,788.1 M1134.5,697.5 L1130.5,802.5 M1150.6,711.9 L1146.6,816.9 M1166.8,726.2 L1162.8,831.2 M1182.9,740.6 L1178.9,845.6 M1199,755 L1195,860 M906,670 L904,706 L910,720 L908,770 M919,683 L917,719 L923,733 L921,783 M932,696 L930,732 L936,746 L934,796 M945,709 L943,745 L949,759 L947,809 M958,722 L956,758 L962,772 L960,822 M971,735 L969,771 L975,785 L973,835 M1010,648 L1009,733 M1023,658 L1022,743 M1036,668 L1035,753 M1049,678 L1048,763 M1062,688 L1061,773 M1075,698 L1074,783 M760,750 L759,820 M772,760 L771,830 M784,770 L783,840 M796,780 L795,850 M808,790 L807,860 M770,735 L789.2,729.9 L808.3,725.9 L827.5,723.9 L846.7,724 L865.8,725.8 L885,728.3 L904.2,730 L923.3,729.7 L942.5,726.4 L961.7,719.9 L980.8,710.7 L1000,700 M786,752.2 L804.8,748.8 L823.7,747.5 L842.5,748.4 L861.3,751 L880.2,754.4 L899,756.9 L917.8,757.3 L936.7,754.6 L955.5,748.4 L974.3,739.3 L993.2,728.4 L1012,717.2 M802,770.6 L820.5,769.8 L839,771.5 L857.5,775 L876,779.3 L894.5,782.9 L913,784.3 L931.5,782.5 L950,777 L968.5,768.3 L987,757.5 L1005.5,746.1 L1024,735.6 M818,791 L836.2,793.3 L854.3,797.7 L872.5,803 L890.7,807.7 L908.8,810.3 L927,809.7 L945.2,805.2 L963.3,797.3 L981.5,786.9 L999.7,775.6 L1017.8,764.8 L1036,756 M834,813.9 L851.8,818.9 L869.7,825.2 L887.5,831.1 L905.3,835.1 L923.2,835.8 L941,832.6 L958.8,825.8 L976.7,816.2 L994.5,805.3 L1012.3,794.7 L1030.2,785.6 L1048,778.9 M850,839 L867.5,846 L885,853 L902.5,858.3 L920,860.4 L937.5,858.7 L955,853.3 L972.5,844.9 L990,834.9 L1007.5,824.7 L1025,815.8 L1042.5,808.9 L1060,804 M866,865.6 L883.2,873.4 L900.3,879.8 L917.5,883.4 L934.7,883.3 L951.8,879.5 L969,872.5 L986.2,863.7 L1003.3,854.5 L1020.5,846.1 L1037.7,839.4 L1054.8,834.3 L1072,830.6 M882,892.5 L898.8,899.9 L915.7,904.7 L932.5,906.2 L949.3,904 L966.2,898.7 L983,891.4 L999.8,883.5 L1016.7,876.1 L1033.5,869.9 L1050.3,865.2 L1067.2,861.3 L1084,857.5 M785,720 L801.7,745.4 L818.3,769.3 L835,790.3 L851.7,808.2 L868.3,823.2 L885,836.7 L901.7,850.1 L918.3,865.2 L935,883 M807,722.8 L823.7,746.3 L840.3,766.9 L857,784.2 L873.7,799 L890.3,812.3 L907,825.9 L923.7,841.3 L940.3,859.6 L957,881.1 M829,723.2 L845.7,743.3 L862.3,760.2 L879,774.7 L895.7,788 L912.3,801.7 L929,817.5 L945.7,836.3 L962.3,858.2 L979,882.7 M851,719.7 L867.7,736.2 L884.3,750.4 L901,763.6 L917.7,777.6 L934.3,793.7 L951,813 L967.7,835.4 L984.3,860.1 L1001,885.7 M873,712.1 L889.7,726 L906.3,739.3 L923,753.5 L939.7,770.1 L956.3,789.8 L973,812.6 L989.7,837.5 L1006.3,863.2 L1023,887.8 M895,701.7 L911.7,715 L928.3,729.4 L945,746.5 L961.7,766.6 L978.3,789.8 L995,815 L1011.7,840.6 L1028.3,865 L1045,886.9 M917,690.7 L933.7,705.5 L950.3,722.9 L967,743.6 L983.7,767.1 L1000.3,792.4 L1017,818 L1033.7,842.1 L1050.3,863.5 L1067,881.8 M939,681.5 L955.7,699.4 L972.3,720.6 L989,744.5 L1005.7,769.9 L1022.3,795.3 L1039,819.1 L1055.7,840.1 L1072.3,857.9 L1089,872.9 M961,676 L977.7,697.6 L994.3,721.8 L1011,747.4 L1027.7,772.7 L1044.3,796.1 L1061,816.6 L1077.7,833.9 L1094.3,848.6 L1111,862 M983,674.7 L999.7,699.2 L1016.3,724.8 L1033,749.9 L1049.7,773 L1066.3,793.1 L1083,809.9 L1099.7,824.3 L1116.3,837.6 L1133,851.4 M1045,705 L1052.9,709.5 L1060.8,711.2 L1068.8,708.7 L1076.7,703.3 L1084.6,698 L1092.5,695.5 L1100.4,697.1 L1108.3,701.7 L1116.2,706.2 L1124.2,707.8 L1132.1,705.4 L1140,700 L1147.9,694.6 L1155.8,692.2 L1163.8,693.8 L1171.7,698.3 L1179.6,702.9 L1187.5,704.5 L1195.4,702 L1203.3,696.7 L1211.2,691.3 L1219.2,688.8 L1227.1,690.5 L1235,695 M1051,729 L1058.9,733.5 L1066.8,735.2 L1074.8,732.7 L1082.7,727.3 L1090.6,722 L1098.5,719.5 L1106.4,721.1 L1114.3,725.7 L1122.2,730.2 L1130.2,731.8 L1138.1,729.4 L1146,724 L1153.9,718.6 L1161.8,716.2 L1169.8,717.8 L1177.7,722.3 L1185.6,726.9 L1193.5,728.5 L1201.4,726 L1209.3,720.7 L1217.2,715.3 L1225.2,712.8 L1233.1,714.5 L1241,719 M1057,753 L1064.9,757.5 L1072.8,759.2 L1080.8,756.7 L1088.7,751.3 L1096.6,746 L1104.5,743.5 L1112.4,745.1 L1120.3,749.7 L1128.2,754.2 L1136.2,755.8 L1144.1,753.4 L1152,748 L1159.9,742.6 L1167.8,740.2 L1175.8,741.8 L1183.7,746.3 L1191.6,750.9 L1199.5,752.5 L1207.4,750 L1215.3,744.7 L1223.2,739.3 L1231.2,736.8 L1239.1,738.5 L1247,743 M1063,777 L1070.9,781.5 L1078.8,783.2 L1086.8,780.7 L1094.7,775.3 L1102.6,770 L1110.5,767.5 L1118.4,769.1 L1126.3,773.7 L1134.2,778.2 L1142.2,779.8 L1150.1,777.4 L1158,772 L1165.9,766.6 L1173.8,764.2 L1181.8,765.8 L1189.7,770.3 L1197.6,774.9 L1205.5,776.5 L1213.4,774 L1221.3,768.7 L1229.2,763.3 L1237.2,760.8 L1245.1,762.5 L1253,767 M1069,801 L1076.9,805.5 L1084.8,807.2 L1092.8,804.7 L1100.7,799.3 L1108.6,794 L1116.5,791.5 L1124.4,793.1 L1132.3,797.7 L1140.2,802.2 L1148.2,803.8 L1156.1,801.4 L1164,796 L1171.9,790.6 L1179.8,788.2 L1187.8,789.8 L1195.7,794.3 L1203.6,798.9 L1211.5,800.5 L1219.4,798 L1227.3,792.7 L1235.2,787.3 L1243.2,784.8 L1251.1,786.5 L1259,791 M1075,825 L1082.9,829.5 L1090.8,831.2 L1098.8,828.7 L1106.7,823.3 L1114.6,818 L1122.5,815.5 L1130.4,817.1 L1138.3,821.7 L1146.2,826.2 L1154.2,827.8 L1162.1,825.4 L1170,820 L1177.9,814.6 L1185.8,812.2 L1193.8,813.8 L1201.7,818.3 L1209.6,822.9 L1217.5,824.5 L1225.4,822 L1233.3,816.7 L1241.2,811.3 L1249.2,808.8 L1257.1,810.5 L1265,815" fill="none" stroke="#fff" stroke-width="1.3" stroke-linecap="butt" stroke-linejoin="round"/>
<ellipse cx="701" cy="810" rx="10" ry="14" fill="#fff" stroke="#000" stroke-width="1.6"/><ellipse cx="702" cy="810" rx="6" ry="9" fill="#000"/><ellipse cx="710" cy="810" rx="5" ry="12" fill="none" stroke="#000" stroke-width="1.4"/>
<ellipse cx="699" cy="852" rx="10" ry="14" fill="#fff" stroke="#000" stroke-width="1.6"/><ellipse cx="700" cy="852" rx="6" ry="9" fill="#000"/><ellipse cx="708" cy="852" rx="5" ry="12" fill="none" stroke="#000" stroke-width="1.4"/>
<ellipse cx="764" cy="872" rx="10" ry="14" fill="#fff" stroke="#000" stroke-width="1.6"/><ellipse cx="765" cy="872" rx="6" ry="9" fill="#000"/><ellipse cx="773" cy="872" rx="5" ry="12" fill="none" stroke="#000" stroke-width="1.4"/>
<ellipse cx="761" cy="919" rx="10" ry="14" fill="#fff" stroke="#000" stroke-width="1.6"/><ellipse cx="762" cy="919" rx="6" ry="9" fill="#000"/><ellipse cx="770" cy="919" rx="5" ry="12" fill="none" stroke="#000" stroke-width="1.4"/>
<path d="M712,830 L780,885 L785,925 M705,845 L770,900" fill="none" stroke="#000" stroke-width="4.2" stroke-linecap="round" stroke-linejoin="round"/>
<path d="M712,830 L780,885 L785,925 M705,845 L770,900" fill="none" stroke="#fff" stroke-width="1.3" stroke-linecap="butt" stroke-linejoin="round"/>
<path d="M858,1114 L888,1174 M882.5,1114 L912.5,1174 M907,1114 L937,1174 M931.5,1114 L961.5,1174 M956,1114 L1010,1236 M980.5,1114 L1034.5,1236 M1005,1114 L1059,1236 M1029.5,1114 L1083.5,1236 M1054,1114 L1108,1236 M1078.5,1114 L1132.5,1236 M1103,1114 L1157,1236 M1127.5,1114 L1181.5,1236 M1152,1114 L1206,1236 M1176.5,1114 L1230.5,1236 M1201,1114 L1231,1174 M836,1194 L864,1252 M860,1194 L888,1252 M884,1194 L912,1252 M908,1194 L936,1252 M932,1194 L960,1252 M956,1194 L984,1252 M980,1244 L1004,1293.6 L1000,1298.6 L1007,1302.6 L1005,1307.6 M1005,1244 L1029,1293.6 L1025,1298.6 L1032,1302.6 L1030,1307.6 M1030,1244 L1054,1293.6 L1050,1298.6 L1057,1302.6 L1055,1307.6 M1055,1244 L1079,1293.6 L1075,1298.6 L1082,1302.6 L1080,1307.6 M1080,1244 L1104,1293.6 L1100,1298.6 L1107,1302.6 L1105,1307.6 M1105,1244 L1129,1293.6 L1125,1298.6 L1132,1302.6 L1130,1307.6 M1130,1244 L1154,1293.6 L1150,1298.6 L1157,1302.6 L1155,1307.6 M1155,1244 L1179,1293.6 L1175,1298.6 L1182,1302.6 L1180,1307.6 M1180,1244 L1204,1293.6 L1200,1298.6 L1207,1302.6 L1205,1307.6 M824,1296 L854,1360 M848,1296 L878,1360 M872,1296 L902,1360 M896,1296 L926,1360 M920,1296 L950,1360 M944,1296 L974,1360 M964,1296 L988,1345.6 L984,1350.6 L991,1354.6 L989,1359.6 M989,1296 L1013,1345.6 L1009,1350.6 L1016,1354.6 L1014,1359.6 M1014,1296 L1038,1345.6 L1034,1350.6 L1041,1354.6 L1039,1359.6 M1039,1296 L1063,1345.6 L1059,1350.6 L1066,1354.6 L1064,1359.6 M1064,1296 L1088,1345.6 L1084,1350.6 L1091,1354.6 L1089,1359.6 M1089,1296 L1113,1345.6 L1109,1350.6 L1116,1354.6 L1114,1359.6 M1114,1296 L1138,1345.6 L1134,1350.6 L1141,1354.6 L1139,1359.6 M1139,1296 L1163,1345.6 L1159,1350.6 L1166,1354.6 L1164,1359.6 M1164,1296 L1188,1345.6 L1184,1350.6 L1191,1354.6 L1189,1359.6 M980,1348 L1002.4,1392.8 L998.4,1397.8 L1005.4,1401.8 L1003.4,1406.8 M1005,1348 L1027.4,1392.8 L1023.4,1397.8 L1030.4,1401.8 L1028.4,1406.8 M1030,1348 L1052.4,1392.8 L1048.4,1397.8 L1055.4,1401.8 L1053.4,1406.8 M1055,1348 L1077.4,1392.8 L1073.4,1397.8 L1080.4,1401.8 L1078.4,1406.8 M1080,1348 L1102.4,1392.8 L1098.4,1397.8 L1105.4,1401.8 L1103.4,1406.8 M1105,1348 L1127.4,1392.8 L1123.4,1397.8 L1130.4,1401.8 L1128.4,1406.8 M1130,1348 L1152.4,1392.8 L1148.4,1397.8 L1155.4,1401.8 L1153.4,1406.8 M1155,1348 L1177.4,1392.8 L1173.4,1397.8 L1180.4,1401.8 L1178.4,1406.8 M780,1372 L810,1440 M804,1372 L834,1440 M828,1372 L858,1440 M852,1372 L882,1440 M876,1372 L906,1440 M900,1372 L930,1440 M924,1372 L954,1440 M932,1400 L956,1449.6 L952,1454.6 L959,1458.6 L957,1463.6 M958,1400 L982,1449.6 L978,1454.6 L985,1458.6 L983,1463.6 M984,1400 L1008,1449.6 L1004,1454.6 L1011,1458.6 L1009,1463.6 M1010,1400 L1034,1449.6 L1030,1454.6 L1037,1458.6 L1035,1463.6 M1036,1400 L1060,1449.6 L1056,1454.6 L1063,1458.6 L1061,1463.6 M1062,1400 L1086,1449.6 L1082,1454.6 L1089,1458.6 L1087,1463.6 M1088,1400 L1112,1449.6 L1108,1454.6 L1115,1458.6 L1113,1463.6 M1114,1400 L1138,1449.6 L1134,1454.6 L1141,1458.6 L1139,1463.6 M1140,1400 L1164,1449.6 L1160,1454.6 L1167,1458.6 L1165,1463.6" fill="none" stroke="#000" stroke-width="4.4" stroke-linecap="round" stroke-linejoin="round"/>
<path d="M858,1114 L888,1174 M882.5,1114 L912.5,1174 M907,1114 L937,1174 M931.5,1114 L961.5,1174 M956,1114 L1010,1236 M980.5,1114 L1034.5,1236 M1005,1114 L1059,1236 M1029.5,1114 L1083.5,1236 M1054,1114 L1108,1236 M1078.5,1114 L1132.5,1236 M1103,1114 L1157,1236 M1127.5,1114 L1181.5,1236 M1152,1114 L1206,1236 M1176.5,1114 L1230.5,1236 M1201,1114 L1231,1174 M836,1194 L864,1252 M860,1194 L888,1252 M884,1194 L912,1252 M908,1194 L936,1252 M932,1194 L960,1252 M956,1194 L984,1252 M980,1244 L1004,1293.6 L1000,1298.6 L1007,1302.6 L1005,1307.6 M1005,1244 L1029,1293.6 L1025,1298.6 L1032,1302.6 L1030,1307.6 M1030,1244 L1054,1293.6 L1050,1298.6 L1057,1302.6 L1055,1307.6 M1055,1244 L1079,1293.6 L1075,1298.6 L1082,1302.6 L1080,1307.6 M1080,1244 L1104,1293.6 L1100,1298.6 L1107,1302.6 L1105,1307.6 M1105,1244 L1129,1293.6 L1125,1298.6 L1132,1302.6 L1130,1307.6 M1130,1244 L1154,1293.6 L1150,1298.6 L1157,1302.6 L1155,1307.6 M1155,1244 L1179,1293.6 L1175,1298.6 L1182,1302.6 L1180,1307.6 M1180,1244 L1204,1293.6 L1200,1298.6 L1207,1302.6 L1205,1307.6 M824,1296 L854,1360 M848,1296 L878,1360 M872,1296 L902,1360 M896,1296 L926,1360 M920,1296 L950,1360 M944,1296 L974,1360 M964,1296 L988,1345.6 L984,1350.6 L991,1354.6 L989,1359.6 M989,1296 L1013,1345.6 L1009,1350.6 L1016,1354.6 L1014,1359.6 M1014,1296 L1038,1345.6 L1034,1350.6 L1041,1354.6 L1039,1359.6 M1039,1296 L1063,1345.6 L1059,1350.6 L1066,1354.6 L1064,1359.6 M1064,1296 L1088,1345.6 L1084,1350.6 L1091,1354.6 L1089,1359.6 M1089,1296 L1113,1345.6 L1109,1350.6 L1116,1354.6 L1114,1359.6 M1114,1296 L1138,1345.6 L1134,1350.6 L1141,1354.6 L1139,1359.6 M1139,1296 L1163,1345.6 L1159,1350.6 L1166,1354.6 L1164,1359.6 M1164,1296 L1188,1345.6 L1184,1350.6 L1191,1354.6 L1189,1359.6 M980,1348 L1002.4,1392.8 L998.4,1397.8 L1005.4,1401.8 L1003.4,1406.8 M1005,1348 L1027.4,1392.8 L1023.4,1397.8 L1030.4,1401.8 L1028.4,1406.8 M1030,1348 L1052.4,1392.8 L1048.4,1397.8 L1055.4,1401.8 L1053.4,1406.8 M1055,1348 L1077.4,1392.8 L1073.4,1397.8 L1080.4,1401.8 L1078.4,1406.8 M1080,1348 L1102.4,1392.8 L1098.4,1397.8 L1105.4,1401.8 L1103.4,1406.8 M1105,1348 L1127.4,1392.8 L1123.4,1397.8 L1130.4,1401.8 L1128.4,1406.8 M1130,1348 L1152.4,1392.8 L1148.4,1397.8 L1155.4,1401.8 L1153.4,1406.8 M1155,1348 L1177.4,1392.8 L1173.4,1397.8 L1180.4,1401.8 L1178.4,1406.8 M780,1372 L810,1440 M804,1372 L834,1440 M828,1372 L858,1440 M852,1372 L882,1440 M876,1372 L906,1440 M900,1372 L930,1440 M924,1372 L954,1440 M932,1400 L956,1449.6 L952,1454.6 L959,1458.6 L957,1463.6 M958,1400 L982,1449.6 L978,1454.6 L985,1458.6 L983,1463.6 M984,1400 L1008,1449.6 L1004,1454.6 L1011,1458.6 L1009,1463.6 M1010,1400 L1034,1449.6 L1030,1454.6 L1037,1458.6 L1035,1463.6 M1036,1400 L1060,1449.6 L1056,1454.6 L1063,1458.6 L1061,1463.6 M1062,1400 L1086,1449.6 L1082,1454.6 L1089,1458.6 L1087,1463.6 M1088,1400 L1112,1449.6 L1108,1454.6 L1115,1458.6 L1113,1463.6 M1114,1400 L1138,1449.6 L1134,1454.6 L1141,1458.6 L1139,1463.6 M1140,1400 L1164,1449.6 L1160,1454.6 L1167,1458.6 L1165,1463.6" fill="none" stroke="#9a9a9a" stroke-width="1.6" stroke-linecap="butt" stroke-linejoin="round" stroke-dasharray="2 1.2"/>
<path d="M752,1404 L757.2,1384.8 L767.8,1346.2 L783.5,1288.5 L804.5,1211.5 L821.2,1152.5 L833.8,1111.5 L842,1088.5 L846,1083.5 L851.4,1079.1 L858.1,1075.4 L866.2,1072.2 L875.8,1069.8 L884.2,1067.8 L891.8,1066.2 L898.2,1065.2 L903.8,1064.8 L914.6,1064.4 L930.9,1064.1 L952.5,1064 L979.5,1064 L1001.6,1064.8 L1018.9,1066.2 L1031.2,1068.5 L1038.8,1071.5 L1046.5,1073.7 L1054.5,1075.1 L1062.8,1075.6 L1071.2,1075.4 L1080.1,1074.4 L1089.4,1072.8 L1099,1070.5 L1109,1067.5 L1123.2,1065.2 L1141.6,1063.8 L1164.1,1063 L1190.9,1063 L1210.9,1063.4 L1224.3,1064.1 L1231,1065.2 L1231,1066.8 L1232.9,1067.9 L1236.8,1068.6 L1242.6,1069 L1250.4,1069 L1257.6,1069.4 L1264.4,1070.3 L1270.6,1071.6 L1276.4,1073.4 L1281.4,1075.9 L1285.8,1079.1 L1289.5,1083.1 L1292.5,1087.9 L1290.1,1112.5 L1282.2,1157 L1268.9,1221.4 L1250.1,1305.6 L1236.1,1368.8 L1226.7,1410.9 L1222,1432 M1222,1432 L1175,1471 L794,1471 L764,1440 L752,1404 M776,1384 L780.6,1367.4 L789.9,1334.1 L803.8,1284.2 L822.2,1217.8 L837.2,1166.6 L848.8,1130.9 L856.8,1110.5 L861.2,1105.5 L866.9,1101.4 L873.6,1098.1 L881.5,1095.8 L890.5,1094.2 L905.8,1093 L927.2,1092 L955,1091.2 L989,1090.8 L1015.9,1091 L1035.6,1092 L1048.2,1093.8 L1053.8,1096.2 L1060.2,1098.1 L1067.8,1099.2 L1076.2,1099.6 L1085.8,1099.4 L1095.2,1098.4 L1104.8,1096.8 L1114.2,1094.5 L1123.8,1091.5 L1137.5,1089.3 L1155.5,1087.9 L1177.8,1087.4 L1204.2,1087.6 L1226.4,1088.1 L1244.1,1088.9 L1257.5,1089.9 L1266.5,1091.1 L1274.5,1092.8 L1281.5,1094.8 L1287.5,1097.1 L1292.5,1099.9 L1296.8,1102.8 L1300.2,1105.9 L1303,1109.2 L1305,1112.8 L1301.8,1134.2 L1293.2,1173.8 L1279.5,1231.2 L1260.5,1306.8 L1246.2,1363.4 L1236.8,1401.1 L1232,1420 M1232,1420 L1218,1464 L792,1461 L770,1430 L776,1384 M886,1160 L960,1160 M864,1232 L940,1232 M1296,1130 L1211,1407 L1162,1446 M834,1116 L862,1166 L868,1170 L1306,1169 M810,1196 L842,1252 L848,1256 L1002,1255 M1000,1238 L1248,1237 M806,1284 L828,1298 L834,1302 L1270,1301 M790,1330 L814,1355 L820,1359 L1247,1358 M954,1406 L1241,1405 M772,1408 L794,1436 L800,1440 L1127,1439 M1224,1160 L1298,1159 M1203,1228 L1276,1227 M912,1066 L940,1116 L838,1488 L817,1452 M1006,1066 L1032,1114 L926,1488 L905,1452 M1084,1077 L1114,1134 L1014,1488 L993,1452 M1160,1066 L1188,1118 L1082,1488 L1061,1452 M1225,1066 L1252,1116 L1152,1487 L1131,1451" fill="none" stroke="#000" stroke-width="4.2" stroke-linecap="round" stroke-linejoin="round"/>
<path d="M752,1404 L757.2,1384.8 L767.8,1346.2 L783.5,1288.5 L804.5,1211.5 L821.2,1152.5 L833.8,1111.5 L842,1088.5 L846,1083.5 L851.4,1079.1 L858.1,1075.4 L866.2,1072.2 L875.8,1069.8 L884.2,1067.8 L891.8,1066.2 L898.2,1065.2 L903.8,1064.8 L914.6,1064.4 L930.9,1064.1 L952.5,1064 L979.5,1064 L1001.6,1064.8 L1018.9,1066.2 L1031.2,1068.5 L1038.8,1071.5 L1046.5,1073.7 L1054.5,1075.1 L1062.8,1075.6 L1071.2,1075.4 L1080.1,1074.4 L1089.4,1072.8 L1099,1070.5 L1109,1067.5 L1123.2,1065.2 L1141.6,1063.8 L1164.1,1063 L1190.9,1063 L1210.9,1063.4 L1224.3,1064.1 L1231,1065.2 L1231,1066.8 L1232.9,1067.9 L1236.8,1068.6 L1242.6,1069 L1250.4,1069 L1257.6,1069.4 L1264.4,1070.3 L1270.6,1071.6 L1276.4,1073.4 L1281.4,1075.9 L1285.8,1079.1 L1289.5,1083.1 L1292.5,1087.9 L1290.1,1112.5 L1282.2,1157 L1268.9,1221.4 L1250.1,1305.6 L1236.1,1368.8 L1226.7,1410.9 L1222,1432 M1222,1432 L1175,1471 L794,1471 L764,1440 L752,1404 M776,1384 L780.6,1367.4 L789.9,1334.1 L803.8,1284.2 L822.2,1217.8 L837.2,1166.6 L848.8,1130.9 L856.8,1110.5 L861.2,1105.5 L866.9,1101.4 L873.6,1098.1 L881.5,1095.8 L890.5,1094.2 L905.8,1093 L927.2,1092 L955,1091.2 L989,1090.8 L1015.9,1091 L1035.6,1092 L1048.2,1093.8 L1053.8,1096.2 L1060.2,1098.1 L1067.8,1099.2 L1076.2,1099.6 L1085.8,1099.4 L1095.2,1098.4 L1104.8,1096.8 L1114.2,1094.5 L1123.8,1091.5 L1137.5,1089.3 L1155.5,1087.9 L1177.8,1087.4 L1204.2,1087.6 L1226.4,1088.1 L1244.1,1088.9 L1257.5,1089.9 L1266.5,1091.1 L1274.5,1092.8 L1281.5,1094.8 L1287.5,1097.1 L1292.5,1099.9 L1296.8,1102.8 L1300.2,1105.9 L1303,1109.2 L1305,1112.8 L1301.8,1134.2 L1293.2,1173.8 L1279.5,1231.2 L1260.5,1306.8 L1246.2,1363.4 L1236.8,1401.1 L1232,1420 M1232,1420 L1218,1464 L792,1461 L770,1430 L776,1384 M886,1160 L960,1160 M864,1232 L940,1232 M1296,1130 L1211,1407 L1162,1446 M834,1116 L862,1166 L868,1170 L1306,1169 M810,1196 L842,1252 L848,1256 L1002,1255 M1000,1238 L1248,1237 M806,1284 L828,1298 L834,1302 L1270,1301 M790,1330 L814,1355 L820,1359 L1247,1358 M954,1406 L1241,1405 M772,1408 L794,1436 L800,1440 L1127,1439 M1224,1160 L1298,1159 M1203,1228 L1276,1227 M912,1066 L940,1116 L838,1488 L817,1452 M1006,1066 L1032,1114 L926,1488 L905,1452 M1084,1077 L1114,1134 L1014,1488 L993,1452 M1160,1066 L1188,1118 L1082,1488 L1061,1452 M1225,1066 L1252,1116 L1152,1487 L1131,1451" fill="none" stroke="#fff" stroke-width="1.3" stroke-linecap="butt" stroke-linejoin="round"/>
<path d="M1304,1148 h8 a9,16.5 0 0 1 0,33 h-8 a9,16.5 0 0 1 0,-33z" fill="#fff" stroke="#000" stroke-width="1.6"/><ellipse cx="1312" cy="1164" rx="9" ry="16.5" fill="#fff" stroke="#000" stroke-width="1.5"/><circle cx="1312" cy="1164" r="2.4" fill="#000"/>
<path d="M1285,1217 h8 a9,16.5 0 0 1 0,33 h-8 a9,16.5 0 0 1 0,-33z" fill="#fff" stroke="#000" stroke-width="1.6"/><ellipse cx="1293" cy="1233" rx="9" ry="16.5" fill="#fff" stroke="#000" stroke-width="1.5"/><circle cx="1293" cy="1233" r="2.4" fill="#000"/>
<path d="M1250,1338 h8 a9,16.5 0 0 1 0,33 h-8 a9,16.5 0 0 1 0,-33z" fill="#fff" stroke="#000" stroke-width="1.6"/><ellipse cx="1258" cy="1354" rx="9" ry="16.5" fill="#fff" stroke="#000" stroke-width="1.5"/><circle cx="1258" cy="1354" r="2.4" fill="#000"/>
<path d="M1231,1412 h8 a9,16.5 0 0 1 0,33 h-8 a9,16.5 0 0 1 0,-33z" fill="#fff" stroke="#000" stroke-width="1.6"/><ellipse cx="1239" cy="1428" rx="9" ry="16.5" fill="#fff" stroke="#000" stroke-width="1.5"/><circle cx="1239" cy="1428" r="2.4" fill="#000"/>
<path d="M872,1149 C856,1149 856,1179 872,1179" fill="none" stroke="#000" stroke-width="1.4"/>
<path d="M856,1217 C840,1217 840,1247 856,1247" fill="none" stroke="#000" stroke-width="1.4"/>
<path d="M824,1335 C808,1335 808,1365 824,1365" fill="none" stroke="#000" stroke-width="1.4"/>
<path d="M810,1411 C794,1411 794,1441 810,1441" fill="none" stroke="#000" stroke-width="1.4"/>
<path d="M313,916 C312,880 316,860 330,843 C360,818 410,815 458,815 C478,815 487,825 489,840 L490,872 L483,878 L483,914 L476,914 L474,842 C473,832 468,828 458,828 C415,829 372,838 343,860 C330,870 326,885 327,905 L327,918 L321,920 L321,960 L316,960 L316,918Z" fill="#fff" stroke="#000" stroke-width="1.6" stroke-linejoin="round"/>
<path d="M335,870 C350,850 390,838 440,832 C455,830 465,831 470,836" fill="none" stroke="#000" stroke-width="1.2"/>
<path d="M324,912 L324,950" stroke="#000" stroke-width="1.2"/>
<rect x="318" y="946" width="7" height="7" fill="#fff" stroke="#000" stroke-width="1.2"/>
<path d="M483,900 l3,5 -3,5" fill="#000"/>
<rect x="343" y="1028" width="8" height="16" rx="1.5" fill="#fff" stroke="#000" stroke-width="1.5"/><path d="M347,1030 V1042" stroke="#000" stroke-width="1"/>
<rect x="393" y="1040" width="8" height="13" rx="1.5" fill="#fff" stroke="#000" stroke-width="1.5"/><path d="M397,1042 V1051" stroke="#000" stroke-width="1"/>
<rect x="513" y="1003" width="8" height="15" rx="1.5" fill="#fff" stroke="#000" stroke-width="1.5"/><path d="M517,1005 V1016" stroke="#000" stroke-width="1"/>
<path d="M338,1021 L342,1027 L368,1039 L396,1042 L521,1001 L534,997 L534,994 L521,997 L396,1038 L368,1035 L342,1024Z" fill="#fff" stroke="#000" stroke-width="1.5" stroke-linejoin="round"/>
<path d="M338,1021 L491,974 L504,978 L506,986 L530,989 L534,994 L521,997 L396,1038 L368,1035 L342,1024Z" fill="#fff" stroke="#000" stroke-width="1.7" stroke-linejoin="round"/>
<g transform="matrix(156,-47,28,18,344,1020)"><ellipse cx="0.115" cy="0.2437" rx="0.0252" ry="0.0638" fill="#fff" stroke="#000" stroke-width="1.5" vector-effect="non-scaling-stroke"/><ellipse cx="0.115" cy="0.4313" rx="0.0252" ry="0.0638" fill="#fff" stroke="#000" stroke-width="1.5" vector-effect="non-scaling-stroke"/><ellipse cx="0.115" cy="0.6188" rx="0.0252" ry="0.0638" fill="#fff" stroke="#000" stroke-width="1.5" vector-effect="non-scaling-stroke"/><ellipse cx="0.115" cy="0.8063" rx="0.0252" ry="0.0638" fill="#fff" stroke="#000" stroke-width="1.5" vector-effect="non-scaling-stroke"/><ellipse cx="0.185" cy="0.2437" rx="0.0252" ry="0.0638" fill="#fff" stroke="#000" stroke-width="1.5" vector-effect="non-scaling-stroke"/><ellipse cx="0.185" cy="0.4313" rx="0.0252" ry="0.0638" fill="#fff" stroke="#000" stroke-width="1.5" vector-effect="non-scaling-stroke"/><ellipse cx="0.185" cy="0.6188" rx="0.0252" ry="0.0638" fill="#fff" stroke="#000" stroke-width="1.5" vector-effect="non-scaling-stroke"/><ellipse cx="0.185" cy="0.8063" rx="0.0252" ry="0.0638" fill="#fff" stroke="#000" stroke-width="1.5" vector-effect="non-scaling-stroke"/><ellipse cx="0.255" cy="0.2437" rx="0.0252" ry="0.0638" fill="#fff" stroke="#000" stroke-width="1.5" vector-effect="non-scaling-stroke"/><ellipse cx="0.255" cy="0.4313" rx="0.0252" ry="0.0638" fill="#fff" stroke="#000" stroke-width="1.5" vector-effect="non-scaling-stroke"/><ellipse cx="0.255" cy="0.6188" rx="0.0252" ry="0.0638" fill="#fff" stroke="#000" stroke-width="1.5" vector-effect="non-scaling-stroke"/><ellipse cx="0.255" cy="0.8063" rx="0.0252" ry="0.0638" fill="#fff" stroke="#000" stroke-width="1.5" vector-effect="non-scaling-stroke"/><ellipse cx="0.325" cy="0.2437" rx="0.0252" ry="0.0638" fill="#fff" stroke="#000" stroke-width="1.5" vector-effect="non-scaling-stroke"/><ellipse cx="0.325" cy="0.4313" rx="0.0252" ry="0.0638" fill="#fff" stroke="#000" stroke-width="1.5" vector-effect="non-scaling-stroke"/><ellipse cx="0.325" cy="0.6188" rx="0.0252" ry="0.0638" fill="#fff" stroke="#000" stroke-width="1.5" vector-effect="non-scaling-stroke"/><ellipse cx="0.325" cy="0.8063" rx="0.0252" ry="0.0638" fill="#fff" stroke="#000" stroke-width="1.5" vector-effect="non-scaling-stroke"/><ellipse cx="0.395" cy="0.2437" rx="0.0252" ry="0.0638" fill="#fff" stroke="#000" stroke-width="1.5" vector-effect="non-scaling-stroke"/><ellipse cx="0.395" cy="0.4313" rx="0.0252" ry="0.0638" fill="#fff" stroke="#000" stroke-width="1.5" vector-effect="non-scaling-stroke"/><ellipse cx="0.395" cy="0.6188" rx="0.0252" ry="0.0638" fill="#fff" stroke="#000" stroke-width="1.5" vector-effect="non-scaling-stroke"/><ellipse cx="0.395" cy="0.8063" rx="0.0252" ry="0.0638" fill="#fff" stroke="#000" stroke-width="1.5" vector-effect="non-scaling-stroke"/><ellipse cx="0.465" cy="0.2437" rx="0.0252" ry="0.0638" fill="#fff" stroke="#000" stroke-width="1.5" vector-effect="non-scaling-stroke"/><ellipse cx="0.465" cy="0.4313" rx="0.0252" ry="0.0638" fill="#fff" stroke="#000" stroke-width="1.5" vector-effect="non-scaling-stroke"/><ellipse cx="0.465" cy="0.6188" rx="0.0252" ry="0.0638" fill="#fff" stroke="#000" stroke-width="1.5" vector-effect="non-scaling-stroke"/><ellipse cx="0.465" cy="0.8063" rx="0.0252" ry="0.0638" fill="#fff" stroke="#000" stroke-width="1.5" vector-effect="non-scaling-stroke"/></g>
<g transform="matrix(156,-47,28,18,344,1020)"><rect x="0.529" y="0.1492" width="0.0945" height="0.0656" fill="#000"/><rect x="0.529" y="0.3132" width="0.0945" height="0.0656" fill="#000"/><rect x="0.529" y="0.4772" width="0.0945" height="0.0656" fill="#000"/><rect x="0.529" y="0.6412" width="0.0945" height="0.0656" fill="#000"/><rect x="0.529" y="0.8052" width="0.0945" height="0.0656" fill="#000"/><rect x="0.6415" y="0.1492" width="0.0945" height="0.0656" fill="#000"/><rect x="0.6415" y="0.3132" width="0.0945" height="0.0656" fill="#000"/><rect x="0.6415" y="0.4772" width="0.0945" height="0.0656" fill="#000"/><rect x="0.6415" y="0.6412" width="0.0945" height="0.0656" fill="#000"/><rect x="0.6415" y="0.8052" width="0.0945" height="0.0656" fill="#000"/><rect x="0.754" y="0.1492" width="0.0945" height="0.0656" fill="#000"/><rect x="0.754" y="0.3132" width="0.0945" height="0.0656" fill="#000"/><rect x="0.754" y="0.4772" width="0.0945" height="0.0656" fill="#000"/><rect x="0.754" y="0.6412" width="0.0945" height="0.0656" fill="#000"/><rect x="0.754" y="0.8052" width="0.0945" height="0.0656" fill="#000"/><rect x="0.8665" y="0.1492" width="0.0945" height="0.0656" fill="#000"/><rect x="0.8665" y="0.3132" width="0.0945" height="0.0656" fill="#000"/><rect x="0.8665" y="0.4772" width="0.0945" height="0.0656" fill="#000"/><rect x="0.8665" y="0.6412" width="0.0945" height="0.0656" fill="#000"/><rect x="0.8665" y="0.8052" width="0.0945" height="0.0656" fill="#000"/></g>
<path d="M418,1000 L447,1020 M428,996 L458,1016" stroke="#000" stroke-width="2.2"/>
<path d="M328,1110 L375,1131 L373,1253 L328,1235Z" fill="#fff" stroke="#000" stroke-width="1.6"/>
<path d="M375,1131 L535,1082 L533,1207 L373,1253Z" fill="#fff" stroke="#000" stroke-width="1.6"/>
<path d="M331,1125 L371,1141 L371,1240 L331,1223Z" fill="url(#pGridL)" stroke="#000" stroke-width="1"/>
<path d="M377,1141 L533,1097 L533,1197 L377,1241Z" fill="url(#pGrid)" stroke="#000" stroke-width="1"/>
<path d="M325,1105 L484,1057 L535,1080 L375,1130Z" fill="#fff" stroke="#000" stroke-width="1.6" stroke-linejoin="round"/>
<path d="M352,1113 L480,1075 L515,1090 L385,1124Z" fill="#fff" stroke="#000" stroke-width="1.2"/>
<path d="M356,1112 L480,1077 L500,1085 L378,1119Z" fill="url(#pSlats)"/>
<path d="M372,1117 L495,1083" stroke="#000" stroke-width="1.2"/>
<path d="M384,1101 L400,1114 L404,1112 L389,1099Z M431,1087 L448,1100 L452,1098 L436,1085Z" fill="#fff" stroke="#000" stroke-width="1.3"/>
<path d="M333.1,1105.7 L483.8,1060.2 L526.6,1079.5 L375.3,1126.8Z" fill="none" stroke="#000" stroke-width="1"/>
<path d="M555,1297 L555,1301 L592,1321 L673,1297 L673,1293Z" fill="#fff" stroke="#000" stroke-width="1.5" stroke-linejoin="round"/>
<path d="M557.9,1296.2 L629.1,1275.8 Q632,1275 634.7,1276.2 L670.3,1291.8 Q673,1293 670.1,1293.9 L594.9,1316.1 Q592,1317 589.4,1315.6 L557.6,1298.4 Q555,1297 557.9,1296.2Z" fill="#fff" stroke="#000" stroke-width="1.7"/>
<g transform="matrix(77,-22,37,20,555,1297)"><rect x="0.0776" y="0.158" width="0.1848" height="0.0507" fill="#000"/><rect x="0.0776" y="0.2847" width="0.1848" height="0.0507" fill="#000"/><rect x="0.0776" y="0.4113" width="0.1848" height="0.0507" fill="#000"/><rect x="0.0776" y="0.538" width="0.1848" height="0.0507" fill="#000"/><rect x="0.0776" y="0.6647" width="0.1848" height="0.0507" fill="#000"/><rect x="0.0776" y="0.7913" width="0.1848" height="0.0507" fill="#000"/><rect x="0.2976" y="0.158" width="0.1848" height="0.0507" fill="#000"/><rect x="0.2976" y="0.2847" width="0.1848" height="0.0507" fill="#000"/><rect x="0.2976" y="0.4113" width="0.1848" height="0.0507" fill="#000"/><rect x="0.2976" y="0.538" width="0.1848" height="0.0507" fill="#000"/><rect x="0.2976" y="0.6647" width="0.1848" height="0.0507" fill="#000"/><rect x="0.2976" y="0.7913" width="0.1848" height="0.0507" fill="#000"/><rect x="0.5176" y="0.158" width="0.1848" height="0.0507" fill="#000"/><rect x="0.5176" y="0.2847" width="0.1848" height="0.0507" fill="#000"/><rect x="0.5176" y="0.4113" width="0.1848" height="0.0507" fill="#000"/><rect x="0.5176" y="0.538" width="0.1848" height="0.0507" fill="#000"/><rect x="0.5176" y="0.6647" width="0.1848" height="0.0507" fill="#000"/><rect x="0.5176" y="0.7913" width="0.1848" height="0.0507" fill="#000"/><rect x="0.7376" y="0.158" width="0.1848" height="0.0507" fill="#000"/><rect x="0.7376" y="0.2847" width="0.1848" height="0.0507" fill="#000"/><rect x="0.7376" y="0.4113" width="0.1848" height="0.0507" fill="#000"/><rect x="0.7376" y="0.538" width="0.1848" height="0.0507" fill="#000"/><rect x="0.7376" y="0.6647" width="0.1848" height="0.0507" fill="#000"/><rect x="0.7376" y="0.7913" width="0.1848" height="0.0507" fill="#000"/></g>
<path d="M294,1348 L294,1352 L336,1374 L412,1348 L412,1344Z" fill="#fff" stroke="#000" stroke-width="1.5" stroke-linejoin="round"/>
<path d="M296.9,1347.2 L367.1,1326.8 Q370,1326 372.8,1327.2 L409.2,1342.8 Q412,1344 409.2,1345 L338.8,1369 Q336,1370 333.3,1368.6 L296.7,1349.4 Q294,1348 296.9,1347.2Z" fill="#fff" stroke="#000" stroke-width="1.7"/>
<g transform="matrix(76,-22,42,22,294,1348)"><ellipse cx="0.148" cy="0.215" rx="0.0669" ry="0.0684" fill="#000" stroke="#fff" stroke-width="0.8" vector-effect="non-scaling-stroke"/><ellipse cx="0.148" cy="0.405" rx="0.0669" ry="0.0684" fill="#000" stroke="#fff" stroke-width="0.8" vector-effect="non-scaling-stroke"/><ellipse cx="0.148" cy="0.595" rx="0.0669" ry="0.0684" fill="#000" stroke="#fff" stroke-width="0.8" vector-effect="non-scaling-stroke"/><ellipse cx="0.148" cy="0.785" rx="0.0669" ry="0.0684" fill="#000" stroke="#fff" stroke-width="0.8" vector-effect="non-scaling-stroke"/><ellipse cx="0.324" cy="0.215" rx="0.0669" ry="0.0684" fill="#000" stroke="#fff" stroke-width="0.8" vector-effect="non-scaling-stroke"/><ellipse cx="0.324" cy="0.405" rx="0.0669" ry="0.0684" fill="#000" stroke="#fff" stroke-width="0.8" vector-effect="non-scaling-stroke"/><ellipse cx="0.324" cy="0.595" rx="0.0669" ry="0.0684" fill="#000" stroke="#fff" stroke-width="0.8" vector-effect="non-scaling-stroke"/><ellipse cx="0.324" cy="0.785" rx="0.0669" ry="0.0684" fill="#000" stroke="#fff" stroke-width="0.8" vector-effect="non-scaling-stroke"/><ellipse cx="0.5" cy="0.215" rx="0.0669" ry="0.0684" fill="#000" stroke="#fff" stroke-width="0.8" vector-effect="non-scaling-stroke"/><ellipse cx="0.5" cy="0.405" rx="0.0669" ry="0.0684" fill="#000" stroke="#fff" stroke-width="0.8" vector-effect="non-scaling-stroke"/><ellipse cx="0.5" cy="0.595" rx="0.0669" ry="0.0684" fill="#000" stroke="#fff" stroke-width="0.8" vector-effect="non-scaling-stroke"/><ellipse cx="0.5" cy="0.785" rx="0.0669" ry="0.0684" fill="#000" stroke="#fff" stroke-width="0.8" vector-effect="non-scaling-stroke"/><ellipse cx="0.676" cy="0.215" rx="0.0669" ry="0.0684" fill="#000" stroke="#fff" stroke-width="0.8" vector-effect="non-scaling-stroke"/><ellipse cx="0.676" cy="0.405" rx="0.0669" ry="0.0684" fill="#000" stroke="#fff" stroke-width="0.8" vector-effect="non-scaling-stroke"/><ellipse cx="0.676" cy="0.595" rx="0.0669" ry="0.0684" fill="#000" stroke="#fff" stroke-width="0.8" vector-effect="non-scaling-stroke"/><ellipse cx="0.676" cy="0.785" rx="0.0669" ry="0.0684" fill="#000" stroke="#fff" stroke-width="0.8" vector-effect="non-scaling-stroke"/><ellipse cx="0.852" cy="0.215" rx="0.0669" ry="0.0684" fill="#000" stroke="#fff" stroke-width="0.8" vector-effect="non-scaling-stroke"/><ellipse cx="0.852" cy="0.405" rx="0.0669" ry="0.0684" fill="#000" stroke="#fff" stroke-width="0.8" vector-effect="non-scaling-stroke"/><ellipse cx="0.852" cy="0.595" rx="0.0669" ry="0.0684" fill="#000" stroke="#fff" stroke-width="0.8" vector-effect="non-scaling-stroke"/><ellipse cx="0.852" cy="0.785" rx="0.0669" ry="0.0684" fill="#000" stroke="#fff" stroke-width="0.8" vector-effect="non-scaling-stroke"/></g>
<path d="M557,1368 L601,1388 L605,1510 L559,1489Z" fill="#fff" stroke="#000" stroke-width="1.6"/>
<path d="M601,1388 L684,1365 L682,1488 L605,1510Z" fill="#fff" stroke="#000" stroke-width="1.6"/>
<path d="M560,1380 L599,1398 L602,1497 L561,1480Z" fill="url(#pGridL)" stroke="#000" stroke-width="1"/>
<path d="M606,1396 L683,1379 L683,1482 L606,1498Z" fill="url(#pGrid)" stroke="#000" stroke-width="1"/>
<path d="M556,1363 L636,1341 L685,1362 L601,1383Z" fill="#fff" stroke="#000" stroke-width="1.6" stroke-linejoin="round"/>
<path d="M570.8,1364.1 L635.6,1346.3 L669.4,1360.7 L601.5,1377.7Z" fill="#fff" stroke="#000" stroke-width="1.2"/>
<path d="M587,1359.7 L635.6,1346.3 L650.8,1352.8 L601.2,1365.9Z" fill="url(#pSlats)"/>
<path d="M593.8,1374.3 L661,1357.1" stroke="#000" stroke-width="1"/>
<path d="M563.4,1363.6 L635.8,1343.6 L677.2,1361.4 L601.2,1380.4Z" fill="none" stroke="#000" stroke-width="1"/>
<path d="M297,1420 L342,1440 L342,1559 L298,1540Z" fill="#fff" stroke="#000" stroke-width="1.6"/>
<path d="M342,1440 L422,1416 L421,1537 L342,1559Z" fill="#fff" stroke="#000" stroke-width="1.6"/>
<path d="M300,1432 L339,1450 L339,1546 L301,1529Z" fill="url(#pGridL)" stroke="#000" stroke-width="1"/>
<path d="M345,1446 L421,1424 L421,1527 L345,1548Z" fill="url(#pGrid)" stroke="#000" stroke-width="1"/>
<path d="M295,1415 L370,1390 L423,1411 L341,1435Z" fill="#fff" stroke="#000" stroke-width="1.6" stroke-linejoin="round"/>
<path d="M309,1415.6 L369.9,1395.3 L407.6,1410.3 L341.3,1429.7Z" fill="#fff" stroke="#000" stroke-width="1.2"/>
<path d="M324.2,1410.5 L369.9,1395.3 L386.9,1402.1 L339.4,1417Z" fill="url(#pSlats)"/>
<path d="M333.2,1426.2 L398.2,1406.5" stroke="#000" stroke-width="1"/>
<path d="M302,1415.3 L369.9,1392.7 L415.3,1410.6 L341.2,1432.3Z" fill="none" stroke="#000" stroke-width="1"/>
<text class="lb" transform="translate(229,143) scale(0.62,1)">40</text>
<path d="M268.6,111 H272 V143 H268.6 V120 L263.8,123.5 V119.2 L267.6,111Z" fill="#000"/>
<text class="lb" transform="translate(652,145) scale(0.62,1)">402</text>
<text class="lb" transform="translate(1400,376) scale(0.62,1)">403</text>
<text class="lb" transform="translate(1400,954) scale(0.62,1)">404</text>
<text class="lb" transform="translate(60,743) scale(0.62,1)">4</text>
<path d="M84.8,710.5 H88.2 V742 H84.8 V719.5 L79,723 V718.5 L83.8,710.5Z" fill="#000"/>
<text class="lb" transform="translate(93,743) scale(0.62,1)">0</text>
<text class="lb" transform="translate(60,931) scale(0.62,1)">409</text>
<text class="lb" transform="translate(60,1084) scale(0.62,1)">408</text>
<text class="lb" transform="translate(60,1252) scale(0.62,1)">407</text>
<text class="lb" transform="translate(60,1375) scale(0.62,1)">406</text>
<text class="lb" transform="translate(60,1569) scale(0.62,1)">405</text>
<polyline points="272,127.5 306,127.5 426,318" class="ld"/>
<polyline points="699,129.5 754,129.5 834,236" class="ld"/>
<polyline points="1400,359 1324,359 1171,646" class="ld"/>
<polyline points="1400,938 1347,938 1193,1143" class="ld"/>
<polyline points="108,727 150,727 340,865" class="ld"/>
<polyline points="108,914 152,914 360,1012" class="ld"/>
<polyline points="108,1068 167,1068 328,1160" class="ld"/>
<polyline points="108,1235 173,1235 553,1292" class="ld"/>
<polyline points="108,1359 166,1359 295,1351" class="ld"/>
<polyline points="108,1553 158,1553 299,1500" class="ld"/>
<polyline points="158,1553 301,1516" class="ld"/>
<polyline points="421,1484 557,1449" class="ld"/>
<path d="M1171,646 L1174,634 L1179,639Z M1193,1143 L1197,1131 L1202,1136Z" fill="#000"/>
<text class="model" transform="translate(1086,1661.5) scale(0.935,1)">DW-750</text>
<path d="M396,709 H422.5 V752 H441 L409.5,782 L378,752 H396 Z" fill="none" stroke="#000" stroke-width="1.6"/>
<path class="dash" d="M451,789 C470,788 490,789 510,794 C540,805 560,830 575,858 C590,890 597,940 601,1003 C606,1040 612,1070 625,1105 C650,1170 680,1240 700,1314 C715,1370 730,1420 732,1465 C734,1510 715,1540 690,1550 C660,1562 620,1564 588,1564 C540,1566 500,1585 450,1597 C410,1606 370,1608 330,1600 C290,1590 262,1568 250,1530 C240,1500 238,1460 242,1400 C248,1330 262,1270 266,1189 C268,1120 262,1060 256,1010 C250,970 240,930 236,882 C234,860 245,842 262,834 C300,816 380,797 451,789 Z"/>
</svg>
</body></html>
